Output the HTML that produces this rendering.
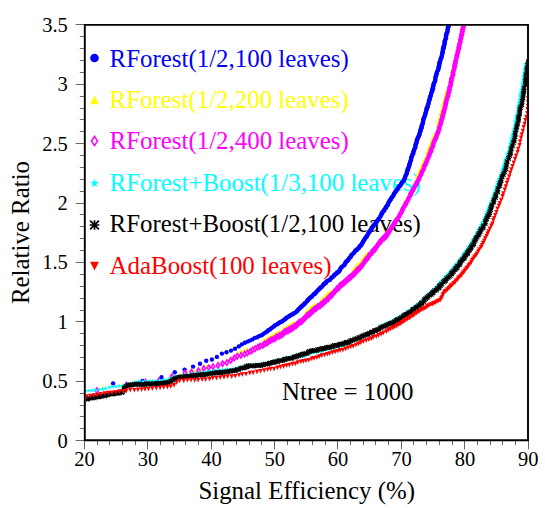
<!DOCTYPE html>
<html><head><meta charset="utf-8"><title>chart</title><style>html,body{margin:0;padding:0;background:#fff;overflow:hidden}body{width:545px;height:508px;position:relative;font-family:"Liberation Serif",serif}</style></head><body>
<svg width="545" height="508" viewBox="0 0 545 508" style="position:absolute;left:0;top:0">
<rect width="545" height="508" fill="#fff"/>
<g font-family="Liberation Serif, serif" font-size="24.9">
<text x="109.6" y="66.5" fill="#0000ff">RForest(1/2,100 leaves)</text>
<text x="109.6" y="107.7" fill="#ffff00">RForest(1/2,200 leaves)</text>
<text x="109.6" y="148.9" fill="#ff00ff">RForest(1/2,400 leaves)</text>
<text x="109.6" y="190.5" fill="#00ffff">RForest+Boost(1/3,100 leaves)</text>
<text x="109.6" y="232.3" fill="#000000">RForest+Boost(1/2,100 leaves)</text>
<text x="109.6" y="273.8" fill="#ff0000">AdaBoost(100 leaves)</text>
<text x="282" y="399.5" fill="#000">Ntree = 1000</text>
<text x="306.7" y="498.6" fill="#000" text-anchor="middle">Signal Efficiency (%)</text>
<text transform="translate(29.3,232.5) rotate(-90)" fill="#000" text-anchor="middle">Relative Ratio</text>
</g>
<g font-family="Liberation Serif, serif" font-size="20.5" fill="#000">
<text x="67.8" y="447.7" text-anchor="end">0</text>
<text x="67.8" y="388.3" text-anchor="end">0.5</text>
<text x="67.8" y="328.8" text-anchor="end">1</text>
<text x="67.8" y="269.4" text-anchor="end">1.5</text>
<text x="67.8" y="210.0" text-anchor="end">2</text>
<text x="67.8" y="150.6" text-anchor="end">2.5</text>
<text x="67.8" y="91.1" text-anchor="end">3</text>
<text x="67.8" y="31.7" text-anchor="end">3.5</text>
<text x="84.6" y="465.6" text-anchor="middle">20</text>
<text x="148.0" y="465.6" text-anchor="middle">30</text>
<text x="211.4" y="465.6" text-anchor="middle">40</text>
<text x="274.7" y="465.6" text-anchor="middle">50</text>
<text x="338.1" y="465.6" text-anchor="middle">60</text>
<text x="401.5" y="465.6" text-anchor="middle">70</text>
<text x="464.9" y="465.6" text-anchor="middle">80</text>
<text x="528.3" y="465.6" text-anchor="middle">90</text>
</g>
<circle cx="94.5" cy="58" r="4.3" fill="#0000ff"/>
<path d="M90.1 104.3L98.9 104.3L94.5 95.8Z" fill="#ffff00"/>
<path d="M91.5 141L94.5 136.4L97.5 141L94.5 145.6Z" fill="none" stroke="#ff00ff" stroke-width="1.5"/>
<g fill="#00ffff"><path d="M94.5 178.8L95.6 181.8L98.9 182.0L96.3 184.0L97.2 187.1L94.5 185.3L91.8 187.1L92.7 184.0L90.1 182.0L93.4 181.8Z"/></g>
<g stroke="#000" stroke-width="1.7" fill="none"><path d="M89.7 225.0H99.3M94.5 220.2V229.8M90.1 220.6L98.9 229.4M90.1 229.4L98.9 220.6"/></g>
<path d="M90.1 261.8L98.9 261.8L94.5 270.4Z" fill="#ff0000"/>
<defs><clipPath id="cp"><rect x="85.7" y="25.8" width="441.4" height="413.6"/></clipPath></defs><g clip-path="url(#cp)">
<g fill="#0000ff"><circle cx="113.1" cy="383.4" r="2.2"/><circle cx="142.5" cy="381.0" r="2.2"/><circle cx="161.5" cy="377.2" r="2.2"/><circle cx="174.8" cy="372.2" r="2.2"/><circle cx="184.6" cy="369.6" r="2.2"/><circle cx="193.1" cy="366.6" r="2.2"/><circle cx="200.0" cy="363.8" r="2.2"/><circle cx="206.2" cy="360.8" r="2.2"/><circle cx="211.9" cy="359.5" r="2.2"/><circle cx="216.9" cy="356.9" r="2.2"/><circle cx="221.9" cy="353.6" r="2.2"/><circle cx="226.5" cy="352.2" r="2.2"/><circle cx="231.0" cy="350.6" r="2.2"/><circle cx="235.0" cy="348.8" r="2.2"/><circle cx="238.8" cy="346.4" r="2.2"/><circle cx="241.8" cy="344.4" r="2.2"/><circle cx="244.8" cy="342.7" r="2.2"/><circle cx="247.5" cy="341.6" r="2.2"/><circle cx="249.9" cy="340.6" r="2.2"/><circle cx="252.4" cy="339.4" r="2.2"/><circle cx="254.8" cy="337.9" r="2.2"/><circle cx="257.3" cy="337.3" r="2.2"/><circle cx="259.3" cy="335.9" r="2.2"/><circle cx="261.7" cy="335.3" r="2.2"/><circle cx="263.6" cy="333.8" r="2.2"/><circle cx="265.6" cy="332.4" r="2.2"/><circle cx="267.2" cy="331.4" r="2.2"/><circle cx="268.3" cy="330.2" r="2.2"/><circle cx="269.9" cy="329.5" r="2.2"/><circle cx="271.3" cy="328.3" r="2.2"/><circle cx="273.0" cy="327.1" r="2.2"/><circle cx="274.3" cy="325.9" r="2.2"/><circle cx="275.2" cy="325.1" r="2.2"/><circle cx="276.9" cy="324.4" r="2.2"/><circle cx="277.9" cy="323.7" r="2.2"/><circle cx="279.2" cy="322.8" r="2.2"/><circle cx="280.5" cy="322.3" r="2.2"/><circle cx="281.3" cy="321.6" r="2.2"/><circle cx="282.5" cy="321.2" r="2.2"/><circle cx="283.6" cy="320.1" r="2.2"/><circle cx="284.8" cy="319.3" r="2.2"/><circle cx="285.4" cy="319.0" r="2.2"/><circle cx="286.1" cy="318.1" r="2.2"/><circle cx="287.0" cy="317.5" r="2.2"/><circle cx="288.5" cy="316.7" r="2.2"/><circle cx="289.5" cy="315.9" r="2.2"/><circle cx="290.4" cy="315.4" r="2.2"/><circle cx="291.3" cy="314.6" r="2.2"/><circle cx="292.6" cy="314.4" r="2.2"/><circle cx="293.4" cy="313.6" r="2.2"/><circle cx="294.1" cy="313.1" r="2.2"/><circle cx="295.5" cy="312.6" r="2.2"/><circle cx="296.6" cy="311.4" r="2.2"/><circle cx="297.2" cy="310.9" r="2.2"/><circle cx="297.9" cy="309.9" r="2.2"/><circle cx="298.9" cy="308.9" r="2.2"/><circle cx="299.6" cy="308.5" r="2.2"/><circle cx="300.5" cy="307.3" r="2.2"/><circle cx="301.5" cy="306.8" r="2.2"/><circle cx="302.1" cy="305.7" r="2.2"/><circle cx="303.3" cy="305.1" r="2.2"/><circle cx="304.3" cy="304.2" r="2.2"/><circle cx="304.8" cy="303.1" r="2.2"/><circle cx="305.7" cy="302.6" r="2.2"/><circle cx="307.0" cy="301.2" r="2.2"/><circle cx="307.3" cy="300.4" r="2.2"/><circle cx="308.2" cy="299.7" r="2.2"/><circle cx="309.3" cy="298.7" r="2.2"/><circle cx="309.7" cy="298.0" r="2.2"/><circle cx="310.8" cy="297.2" r="2.2"/><circle cx="312.0" cy="296.5" r="2.2"/><circle cx="312.6" cy="295.6" r="2.2"/><circle cx="313.6" cy="294.3" r="2.2"/><circle cx="314.6" cy="294.0" r="2.2"/><circle cx="315.4" cy="293.2" r="2.2"/><circle cx="316.0" cy="292.1" r="2.2"/><circle cx="316.7" cy="291.6" r="2.2"/><circle cx="317.6" cy="290.4" r="2.2"/><circle cx="318.6" cy="289.6" r="2.2"/><circle cx="319.5" cy="288.7" r="2.2"/><circle cx="320.1" cy="287.9" r="2.2"/><circle cx="321.0" cy="287.2" r="2.2"/><circle cx="321.8" cy="286.7" r="2.2"/><circle cx="323.0" cy="285.3" r="2.2"/><circle cx="323.6" cy="284.5" r="2.2"/><circle cx="324.4" cy="283.5" r="2.2"/><circle cx="325.6" cy="283.2" r="2.2"/><circle cx="326.2" cy="282.0" r="2.2"/><circle cx="326.9" cy="281.1" r="2.2"/><circle cx="328.1" cy="280.6" r="2.2"/><circle cx="329.5" cy="279.9" r="2.2"/><circle cx="329.9" cy="279.7" r="2.2"/><circle cx="331.1" cy="278.3" r="2.2"/><circle cx="331.9" cy="277.3" r="2.2"/><circle cx="332.7" cy="277.1" r="2.2"/><circle cx="333.8" cy="276.0" r="2.2"/><circle cx="334.2" cy="275.0" r="2.2"/><circle cx="335.0" cy="274.4" r="2.2"/><circle cx="336.2" cy="273.7" r="2.2"/><circle cx="337.0" cy="272.5" r="2.2"/><circle cx="338.2" cy="272.2" r="2.2"/><circle cx="339.0" cy="271.2" r="2.2"/><circle cx="339.8" cy="270.2" r="2.2"/><circle cx="340.1" cy="269.1" r="2.2"/><circle cx="341.0" cy="267.9" r="2.2"/><circle cx="341.5" cy="267.1" r="2.2"/><circle cx="342.4" cy="266.5" r="2.2"/><circle cx="343.7" cy="265.4" r="2.2"/><circle cx="344.4" cy="264.9" r="2.2"/><circle cx="345.2" cy="263.5" r="2.2"/><circle cx="345.5" cy="262.5" r="2.2"/><circle cx="346.2" cy="261.5" r="2.2"/><circle cx="347.3" cy="261.1" r="2.2"/><circle cx="348.2" cy="259.8" r="2.2"/><circle cx="348.8" cy="259.1" r="2.2"/><circle cx="349.1" cy="258.1" r="2.2"/><circle cx="350.4" cy="257.2" r="2.2"/><circle cx="351.0" cy="256.0" r="2.2"/><circle cx="351.3" cy="255.3" r="2.2"/><circle cx="352.2" cy="254.4" r="2.2"/><circle cx="353.5" cy="253.2" r="2.2"/><circle cx="353.9" cy="252.8" r="2.2"/><circle cx="355.0" cy="251.4" r="2.2"/><circle cx="355.4" cy="250.5" r="2.2"/><circle cx="356.8" cy="250.1" r="2.2"/><circle cx="357.1" cy="249.3" r="2.2"/><circle cx="358.6" cy="248.3" r="2.2"/><circle cx="359.0" cy="247.4" r="2.2"/><circle cx="359.6" cy="246.1" r="2.2"/><circle cx="361.0" cy="245.6" r="2.2"/><circle cx="361.3" cy="244.8" r="2.2"/><circle cx="361.9" cy="243.8" r="2.2"/><circle cx="362.9" cy="242.3" r="2.2"/><circle cx="363.1" cy="241.4" r="2.2"/><circle cx="363.8" cy="240.6" r="2.2"/><circle cx="364.4" cy="239.4" r="2.2"/><circle cx="365.0" cy="238.8" r="2.2"/><circle cx="365.7" cy="237.4" r="2.2"/><circle cx="366.6" cy="236.7" r="2.2"/><circle cx="367.1" cy="235.7" r="2.2"/><circle cx="367.8" cy="234.5" r="2.2"/><circle cx="368.5" cy="233.1" r="2.2"/><circle cx="369.1" cy="232.2" r="2.2"/><circle cx="369.5" cy="231.7" r="2.2"/><circle cx="370.2" cy="230.4" r="2.2"/><circle cx="371.2" cy="229.5" r="2.2"/><circle cx="371.6" cy="228.4" r="2.2"/><circle cx="372.4" cy="227.6" r="2.2"/><circle cx="372.8" cy="226.4" r="2.2"/><circle cx="373.6" cy="225.3" r="2.2"/><circle cx="374.7" cy="224.5" r="2.2"/><circle cx="375.3" cy="223.7" r="2.2"/><circle cx="376.3" cy="222.5" r="2.2"/><circle cx="376.7" cy="221.6" r="2.2"/><circle cx="377.3" cy="220.7" r="2.2"/><circle cx="378.0" cy="219.7" r="2.2"/><circle cx="378.7" cy="218.9" r="2.2"/><circle cx="379.5" cy="217.9" r="2.2"/><circle cx="380.3" cy="216.5" r="2.2"/><circle cx="380.7" cy="215.9" r="2.2"/><circle cx="381.5" cy="214.3" r="2.2"/><circle cx="381.7" cy="213.5" r="2.2"/><circle cx="382.3" cy="212.4" r="2.2"/><circle cx="382.9" cy="211.7" r="2.2"/><circle cx="384.1" cy="210.8" r="2.2"/><circle cx="384.3" cy="209.7" r="2.2"/><circle cx="385.3" cy="208.3" r="2.2"/><circle cx="386.1" cy="207.8" r="2.2"/><circle cx="386.2" cy="206.8" r="2.2"/><circle cx="387.0" cy="205.5" r="2.2"/><circle cx="388.0" cy="204.7" r="2.2"/><circle cx="388.1" cy="203.4" r="2.2"/><circle cx="388.9" cy="202.3" r="2.2"/><circle cx="389.3" cy="201.2" r="2.2"/><circle cx="390.3" cy="200.0" r="2.2"/><circle cx="390.8" cy="199.3" r="2.2"/><circle cx="391.1" cy="198.2" r="2.2"/><circle cx="392.1" cy="197.3" r="2.2"/><circle cx="392.4" cy="196.6" r="2.2"/><circle cx="393.5" cy="195.6" r="2.2"/><circle cx="393.7" cy="194.1" r="2.2"/><circle cx="394.3" cy="193.4" r="2.2"/><circle cx="395.1" cy="191.9" r="2.2"/><circle cx="395.9" cy="191.5" r="2.2"/><circle cx="396.8" cy="190.0" r="2.2"/><circle cx="397.0" cy="189.5" r="2.2"/><circle cx="398.0" cy="188.4" r="2.2"/><circle cx="398.4" cy="187.0" r="2.2"/><circle cx="399.6" cy="186.3" r="2.2"/><circle cx="399.8" cy="185.7" r="2.2"/><circle cx="400.9" cy="184.6" r="2.2"/><circle cx="401.3" cy="183.7" r="2.2"/><circle cx="401.9" cy="182.7" r="2.2"/><circle cx="402.9" cy="181.4" r="2.2"/><circle cx="403.7" cy="180.8" r="2.2"/><circle cx="404.1" cy="179.2" r="2.2"/><circle cx="404.9" cy="178.2" r="2.2"/><circle cx="405.1" cy="177.1" r="2.2"/><circle cx="405.4" cy="176.0" r="2.2"/><circle cx="406.0" cy="174.9" r="2.2"/><circle cx="406.7" cy="173.8" r="2.2"/><circle cx="406.9" cy="172.6" r="2.2"/><circle cx="407.1" cy="171.3" r="2.2"/><circle cx="407.4" cy="170.1" r="2.2"/><circle cx="408.1" cy="169.4" r="2.2"/><circle cx="408.0" cy="168.2" r="2.2"/><circle cx="408.9" cy="166.8" r="2.2"/><circle cx="409.2" cy="165.8" r="2.2"/><circle cx="409.3" cy="165.0" r="2.2"/><circle cx="409.6" cy="163.6" r="2.2"/><circle cx="410.1" cy="162.8" r="2.2"/><circle cx="410.3" cy="161.5" r="2.2"/><circle cx="410.9" cy="160.3" r="2.2"/><circle cx="411.1" cy="158.9" r="2.2"/><circle cx="411.2" cy="157.6" r="2.2"/><circle cx="411.6" cy="156.9" r="2.2"/><circle cx="412.1" cy="155.4" r="2.2"/><circle cx="412.4" cy="154.7" r="2.2"/><circle cx="413.3" cy="153.5" r="2.2"/><circle cx="413.3" cy="152.0" r="2.2"/><circle cx="413.7" cy="151.1" r="2.2"/><circle cx="414.0" cy="149.9" r="2.2"/><circle cx="414.4" cy="149.1" r="2.2"/><circle cx="415.3" cy="147.7" r="2.2"/><circle cx="415.2" cy="146.9" r="2.2"/><circle cx="415.6" cy="145.3" r="2.2"/><circle cx="415.7" cy="144.2" r="2.2"/><circle cx="416.4" cy="143.1" r="2.2"/><circle cx="416.6" cy="142.0" r="2.2"/><circle cx="416.8" cy="140.6" r="2.2"/><circle cx="417.3" cy="139.6" r="2.2"/><circle cx="417.6" cy="138.2" r="2.2"/><circle cx="418.1" cy="137.2" r="2.2"/><circle cx="418.7" cy="136.3" r="2.2"/><circle cx="419.2" cy="135.2" r="2.2"/><circle cx="419.5" cy="134.2" r="2.2"/><circle cx="419.7" cy="132.7" r="2.2"/><circle cx="420.4" cy="131.4" r="2.2"/><circle cx="420.6" cy="130.6" r="2.2"/><circle cx="420.5" cy="129.6" r="2.2"/><circle cx="421.4" cy="128.3" r="2.2"/><circle cx="421.6" cy="127.3" r="2.2"/><circle cx="421.5" cy="125.9" r="2.2"/><circle cx="422.1" cy="125.0" r="2.2"/><circle cx="422.7" cy="123.8" r="2.2"/><circle cx="422.8" cy="122.7" r="2.2"/><circle cx="423.2" cy="121.4" r="2.2"/><circle cx="423.3" cy="119.8" r="2.2"/><circle cx="423.5" cy="118.9" r="2.2"/><circle cx="423.8" cy="118.1" r="2.2"/><circle cx="424.5" cy="116.8" r="2.2"/><circle cx="424.9" cy="115.7" r="2.2"/><circle cx="425.1" cy="114.0" r="2.2"/><circle cx="425.7" cy="113.4" r="2.2"/><circle cx="425.8" cy="112.1" r="2.2"/><circle cx="426.3" cy="110.6" r="2.2"/><circle cx="426.7" cy="109.6" r="2.2"/><circle cx="426.5" cy="108.5" r="2.2"/><circle cx="427.3" cy="107.3" r="2.2"/><circle cx="427.7" cy="106.7" r="2.2"/><circle cx="427.9" cy="105.1" r="2.2"/><circle cx="428.2" cy="104.2" r="2.2"/><circle cx="428.7" cy="103.0" r="2.2"/><circle cx="429.0" cy="101.4" r="2.2"/><circle cx="429.0" cy="100.4" r="2.2"/><circle cx="429.7" cy="99.3" r="2.2"/><circle cx="430.0" cy="97.9" r="2.2"/><circle cx="429.9" cy="97.0" r="2.2"/><circle cx="430.7" cy="96.1" r="2.2"/><circle cx="431.0" cy="94.7" r="2.2"/><circle cx="431.2" cy="93.6" r="2.2"/><circle cx="431.5" cy="92.2" r="2.2"/><circle cx="432.1" cy="91.1" r="2.2"/><circle cx="432.5" cy="90.5" r="2.2"/><circle cx="432.2" cy="89.0" r="2.2"/><circle cx="433.1" cy="88.2" r="2.2"/><circle cx="433.1" cy="86.6" r="2.2"/><circle cx="433.3" cy="85.9" r="2.2"/><circle cx="433.6" cy="84.5" r="2.2"/><circle cx="433.9" cy="83.3" r="2.2"/><circle cx="434.8" cy="81.8" r="2.2"/><circle cx="435.0" cy="81.0" r="2.2"/><circle cx="435.4" cy="79.9" r="2.2"/><circle cx="435.2" cy="78.9" r="2.2"/><circle cx="435.7" cy="77.1" r="2.2"/><circle cx="435.7" cy="76.3" r="2.2"/><circle cx="436.3" cy="75.0" r="2.2"/><circle cx="436.4" cy="73.9" r="2.2"/><circle cx="436.9" cy="73.1" r="2.2"/><circle cx="437.0" cy="71.9" r="2.2"/><circle cx="437.9" cy="70.3" r="2.2"/><circle cx="438.3" cy="69.5" r="2.2"/><circle cx="438.6" cy="68.1" r="2.2"/><circle cx="438.5" cy="67.0" r="2.2"/><circle cx="439.3" cy="66.0" r="2.2"/><circle cx="439.2" cy="64.7" r="2.2"/><circle cx="439.4" cy="63.3" r="2.2"/><circle cx="439.6" cy="62.7" r="2.2"/><circle cx="440.1" cy="61.6" r="2.2"/><circle cx="440.4" cy="60.0" r="2.2"/><circle cx="440.8" cy="58.8" r="2.2"/><circle cx="441.0" cy="58.1" r="2.2"/><circle cx="441.7" cy="56.9" r="2.2"/><circle cx="441.8" cy="55.8" r="2.2"/><circle cx="442.2" cy="54.3" r="2.2"/><circle cx="442.4" cy="52.8" r="2.2"/><circle cx="442.6" cy="51.9" r="2.2"/><circle cx="442.9" cy="50.9" r="2.2"/><circle cx="442.9" cy="49.3" r="2.2"/><circle cx="443.6" cy="48.2" r="2.2"/><circle cx="443.6" cy="47.2" r="2.2"/><circle cx="443.7" cy="46.3" r="2.2"/><circle cx="444.5" cy="44.8" r="2.2"/><circle cx="444.5" cy="43.6" r="2.2"/><circle cx="444.7" cy="42.5" r="2.2"/><circle cx="444.7" cy="41.2" r="2.2"/><circle cx="445.0" cy="40.6" r="2.2"/><circle cx="445.5" cy="38.9" r="2.2"/><circle cx="446.0" cy="38.3" r="2.2"/><circle cx="446.0" cy="36.5" r="2.2"/><circle cx="446.1" cy="35.3" r="2.2"/><circle cx="446.5" cy="34.1" r="2.2"/><circle cx="446.7" cy="33.1" r="2.2"/><circle cx="447.2" cy="32.4" r="2.2"/><circle cx="447.6" cy="30.9" r="2.2"/><circle cx="447.6" cy="29.8" r="2.2"/><circle cx="447.9" cy="28.5" r="2.2"/><circle cx="447.9" cy="27.3" r="2.2"/><circle cx="448.8" cy="26.0" r="2.2"/><circle cx="448.8" cy="25.2" r="2.2"/></g>
<g fill="#ffff00"><path d="M100.5 389.1L104.5 389.1L102.5 385.5ZM169.2 378.6L173.2 378.6L171.2 375.0ZM178.0 376.0L182.0 376.0L180.0 372.4ZM185.5 373.9L189.5 373.9L187.5 370.2ZM192.4 372.2L196.4 372.2L194.4 368.6ZM199.2 371.1L203.2 371.1L201.2 367.5ZM205.0 367.6L209.0 367.6L207.0 364.0ZM225.9 361.6L229.9 361.6L227.9 358.0ZM229.4 359.4L233.4 359.4L231.4 355.8ZM232.8 357.7L236.8 357.7L234.8 354.1ZM235.7 354.2L239.7 354.2L237.7 350.6ZM239.5 352.9L243.5 352.9L241.5 349.3ZM242.4 351.9L246.4 351.9L244.4 348.3ZM245.1 350.4L249.1 350.4L247.1 346.8ZM248.8 351.3L252.8 351.3L250.8 347.7ZM251.4 349.6L255.4 349.6L253.4 346.0ZM254.1 348.2L258.1 348.2L256.1 344.6ZM256.5 347.0L260.5 347.0L258.5 343.4ZM258.7 346.1L262.7 346.1L260.7 342.5ZM260.7 345.0L264.7 345.0L262.7 341.4ZM262.1 342.2L266.1 342.2L264.1 338.6ZM263.9 340.8L267.9 340.8L265.9 337.2ZM265.6 339.8L269.6 339.8L267.6 336.2ZM267.5 338.7L271.5 338.7L269.5 335.1ZM269.2 338.0L273.2 338.0L271.2 334.4ZM270.6 336.9L274.6 336.9L272.6 333.3ZM272.6 335.7L276.6 335.7L274.6 332.1ZM274.3 335.1L278.3 335.1L276.3 331.5ZM275.7 334.3L279.7 334.3L277.7 330.7ZM276.8 334.0L280.8 334.0L278.8 330.4ZM277.9 333.4L281.9 333.4L279.9 329.8ZM279.8 334.0L283.8 334.0L281.8 330.4ZM281.3 333.1L285.3 333.1L283.3 329.5ZM281.5 330.4L285.5 330.4L283.5 326.8ZM283.1 329.7L287.1 329.7L285.1 326.1ZM284.0 329.3L288.0 329.3L286.0 325.7ZM285.1 328.5L289.1 328.5L287.1 324.9ZM286.4 327.9L290.4 327.9L288.4 324.3ZM287.3 327.4L291.3 327.4L289.3 323.8ZM288.6 326.1L292.6 326.1L290.6 322.5ZM289.6 325.6L293.6 325.6L291.6 322.0ZM290.5 324.9L294.5 324.9L292.5 321.3ZM291.8 324.2L295.8 324.2L293.8 320.6ZM294.1 324.8L298.1 324.8L296.1 321.2ZM295.1 324.2L299.1 324.2L297.1 320.6ZM296.7 323.2L300.7 323.2L298.7 319.6ZM297.3 322.5L301.3 322.5L299.3 318.9ZM298.5 321.3L302.5 321.3L300.5 317.7ZM299.4 320.7L303.4 320.7L301.4 317.1ZM300.8 319.7L304.8 319.7L302.8 316.1ZM301.7 318.8L305.7 318.8L303.7 315.2ZM302.6 318.1L306.6 318.1L304.6 314.5ZM303.7 317.0L307.7 317.0L305.7 313.4ZM305.0 316.1L309.0 316.1L307.0 312.5ZM304.4 313.4L308.4 313.4L306.4 309.8ZM305.5 312.3L309.5 312.3L307.5 308.7ZM306.7 311.5L310.7 311.5L308.7 307.9ZM307.8 310.5L311.8 310.5L309.8 306.9ZM308.6 309.5L312.6 309.5L310.6 305.9ZM309.8 308.4L313.8 308.4L311.8 304.8ZM310.8 307.8L314.8 307.8L312.8 304.2ZM312.1 306.7L316.1 306.7L314.1 303.1ZM313.2 306.0L317.2 306.0L315.2 302.4ZM315.6 307.0L319.6 307.0L317.6 303.4ZM316.9 306.0L320.9 306.0L318.9 302.4ZM318.2 305.5L322.2 305.5L320.2 301.9ZM318.7 304.6L322.7 304.6L320.7 301.0ZM318.9 302.2L322.9 302.2L320.9 298.6ZM319.5 301.4L323.5 301.4L321.5 297.8ZM320.8 300.0L324.8 300.0L322.8 296.4ZM321.4 299.6L325.4 299.6L323.4 296.0ZM322.8 298.2L326.8 298.2L324.8 294.6ZM323.5 297.2L327.5 297.2L325.5 293.6ZM324.6 296.6L328.6 296.6L326.6 293.0ZM325.6 295.3L329.6 295.3L327.6 291.7ZM326.9 294.7L330.9 294.7L328.9 291.1ZM327.5 293.8L331.5 293.8L329.5 290.2ZM328.7 292.8L332.7 292.8L330.7 289.2ZM331.1 293.2L335.1 293.2L333.1 289.6ZM332.1 292.2L336.1 292.2L334.1 288.6ZM332.7 291.1L336.7 291.1L334.7 287.5ZM333.8 290.0L337.8 290.0L335.8 286.4ZM334.7 289.1L338.7 289.1L336.7 285.5ZM335.8 287.7L339.8 287.7L337.8 284.1ZM336.6 286.5L340.6 286.5L338.6 282.9ZM337.8 285.5L341.8 285.5L339.8 281.9ZM338.9 284.7L342.9 284.7L340.9 281.1ZM340.0 284.0L344.0 284.0L342.0 280.4ZM341.1 283.3L345.1 283.3L343.1 279.7ZM341.8 282.4L345.8 282.4L343.8 278.8ZM343.2 281.3L347.2 281.3L345.2 277.7ZM344.4 280.5L348.4 280.5L346.4 276.9ZM345.2 279.4L349.2 279.4L347.2 275.8ZM346.7 278.3L350.7 278.3L348.7 274.7ZM347.5 277.7L351.5 277.7L349.5 274.1ZM348.2 276.8L352.2 276.8L350.2 273.2ZM349.6 276.0L353.6 276.0L351.6 272.4ZM350.3 275.1L354.3 275.1L352.3 271.5ZM351.4 273.8L355.4 273.8L353.4 270.2ZM351.2 271.2L355.2 271.2L353.2 267.6ZM352.1 270.5L356.1 270.5L354.1 266.9ZM352.8 269.7L356.8 269.7L354.8 266.1ZM353.8 268.4L357.8 268.4L355.8 264.8ZM354.9 267.6L358.9 267.6L356.9 264.0ZM355.7 266.3L359.7 266.3L357.7 262.7ZM356.8 265.5L360.8 265.5L358.8 261.9ZM357.9 264.6L361.9 264.6L359.9 261.0ZM358.7 263.8L362.7 263.8L360.7 260.2ZM359.3 262.6L363.3 262.6L361.3 259.0ZM360.1 261.8L364.1 261.8L362.1 258.2ZM361.0 260.5L365.0 260.5L363.0 256.9ZM361.7 259.1L365.7 259.1L363.7 255.5ZM362.5 258.1L366.5 258.1L364.5 254.5ZM363.6 257.1L367.6 257.1L365.6 253.5ZM364.1 256.0L368.1 256.0L366.1 252.4ZM365.5 254.8L369.5 254.8L367.5 251.2ZM367.3 254.7L371.3 254.7L369.3 251.1ZM368.1 253.5L372.1 253.5L370.1 249.9ZM369.5 252.7L373.5 252.7L371.5 249.1ZM370.2 251.6L374.2 251.6L372.2 248.0ZM371.4 250.4L375.4 250.4L373.4 246.8ZM372.1 249.4L376.1 249.4L374.1 245.8ZM373.1 248.4L377.1 248.4L375.1 244.8ZM373.9 247.2L377.9 247.2L375.9 243.6ZM374.7 246.2L378.7 246.2L376.7 242.6ZM375.5 244.8L379.5 244.8L377.5 241.2ZM375.9 243.5L379.9 243.5L377.9 239.9ZM377.1 242.9L381.1 242.9L379.1 239.3ZM378.0 241.4L382.0 241.4L380.0 237.8ZM379.1 240.6L383.1 240.6L381.1 237.0ZM380.0 239.3L384.0 239.3L382.0 235.7ZM380.9 238.4L384.9 238.4L382.9 234.8ZM381.8 237.5L385.8 237.5L383.8 233.9ZM382.9 236.8L386.9 236.8L384.9 233.2ZM383.4 235.6L387.4 235.6L385.4 232.0ZM384.2 234.2L388.2 234.2L386.2 230.6ZM385.5 233.4L389.5 233.4L387.5 229.8ZM386.3 232.1L390.3 232.1L388.3 228.5ZM386.5 230.9L390.5 230.9L388.5 227.3ZM387.6 230.1L391.6 230.1L389.6 226.5ZM388.6 228.6L392.6 228.6L390.6 225.0ZM389.1 227.3L393.1 227.3L391.1 223.7ZM390.0 226.2L394.0 226.2L392.0 222.6ZM390.5 224.9L394.5 224.9L392.5 221.3ZM391.1 224.1L395.1 224.1L393.1 220.5ZM392.0 223.1L396.0 223.1L394.0 219.5ZM392.8 221.9L396.8 221.9L394.8 218.3ZM393.6 220.2L397.6 220.2L395.6 216.6ZM394.8 219.2L398.8 219.2L396.8 215.6ZM395.6 218.1L399.6 218.1L397.6 214.5ZM395.9 217.3L399.9 217.3L397.9 213.7ZM397.0 216.2L401.0 216.2L399.0 212.6ZM397.6 214.5L401.6 214.5L399.6 210.9ZM398.2 213.6L402.2 213.6L400.2 210.0ZM398.7 212.5L402.7 212.5L400.7 208.9ZM399.3 211.3L403.3 211.3L401.3 207.7ZM400.2 209.5L404.2 209.5L402.2 205.9ZM400.4 208.6L404.4 208.6L402.4 205.0ZM401.5 207.0L405.5 207.0L403.5 203.4ZM401.9 206.2L405.9 206.2L403.9 202.6ZM402.4 205.0L406.4 205.0L404.4 201.4ZM403.2 203.3L407.2 203.3L405.2 199.7ZM403.8 202.3L407.8 202.3L405.8 198.7ZM404.5 201.2L408.5 201.2L406.5 197.6ZM405.0 200.0L409.0 200.0L407.0 196.4ZM405.7 198.6L409.7 198.6L407.7 195.0ZM406.5 197.3L410.5 197.3L408.5 193.7ZM407.1 196.2L411.1 196.2L409.1 192.6ZM408.1 195.0L412.1 195.0L410.1 191.4ZM408.5 193.5L412.5 193.5L410.5 189.9ZM408.9 192.6L412.9 192.6L410.9 189.0ZM409.9 191.3L413.9 191.3L411.9 187.7ZM410.4 190.0L414.4 190.0L412.4 186.4ZM411.4 188.9L415.4 188.9L413.4 185.3ZM411.9 187.3L415.9 187.3L413.9 183.7ZM412.5 186.5L416.5 186.5L414.5 182.9ZM413.1 185.1L417.1 185.1L415.1 181.5ZM413.9 184.0L417.9 184.0L415.9 180.4ZM414.6 182.4L418.6 182.4L416.6 178.8ZM414.8 181.2L418.8 181.2L416.8 177.6ZM415.6 180.1L419.6 180.1L417.6 176.5ZM415.0 178.4L419.0 178.4L417.0 174.8ZM415.1 177.1L419.1 177.1L417.1 173.5ZM416.2 175.8L420.2 175.8L418.2 172.2ZM416.6 174.2L420.6 174.2L418.6 170.6ZM417.4 173.2L421.4 173.2L419.4 169.6ZM417.9 172.0L421.9 172.0L419.9 168.4ZM418.2 170.3L422.2 170.3L420.2 166.7ZM418.9 169.4L422.9 169.4L420.9 165.8ZM419.3 168.1L423.3 168.1L421.3 164.5ZM420.3 166.5L424.3 166.5L422.3 162.9ZM420.7 165.5L424.7 165.5L422.7 161.9ZM421.2 164.0L425.2 164.0L423.2 160.4ZM421.7 163.1L425.7 163.1L423.7 159.5ZM422.6 161.7L426.6 161.7L424.6 158.1ZM422.7 160.7L426.7 160.7L424.7 157.1ZM423.7 159.1L427.7 159.1L425.7 155.5ZM425.5 158.7L429.5 158.7L427.5 155.1ZM426.2 157.2L430.2 157.2L428.2 153.6ZM425.0 155.4L429.0 155.4L427.0 151.8ZM425.3 153.8L429.3 153.8L427.3 150.2ZM425.8 152.8L429.8 152.8L427.8 149.2ZM426.4 151.4L430.4 151.4L428.4 147.8ZM426.9 150.1L430.9 150.1L428.9 146.5ZM427.2 148.5L431.2 148.5L429.2 144.9ZM428.3 147.4L432.3 147.4L430.3 143.8ZM428.2 146.2L432.2 146.2L430.2 142.6ZM429.1 144.6L433.1 144.6L431.1 141.0ZM429.5 143.4L433.5 143.4L431.5 139.8ZM429.9 141.9L433.9 141.9L431.9 138.3ZM430.1 141.2L434.1 141.2L432.1 137.6ZM431.1 139.6L435.1 139.6L433.1 136.0ZM431.5 138.1L435.5 138.1L433.5 134.5ZM432.1 136.9L436.1 136.9L434.1 133.3ZM432.7 135.8L436.7 135.8L434.7 132.2ZM434.6 135.2L438.6 135.2L436.6 131.6ZM434.8 133.3L438.8 133.3L436.8 129.7ZM435.2 132.1L439.2 132.1L437.2 128.5ZM435.6 130.8L439.6 130.8L437.6 127.2ZM436.3 130.0L440.3 130.0L438.3 126.4ZM436.6 128.7L440.6 128.7L438.6 125.1ZM437.2 126.8L441.2 126.8L439.2 123.2ZM436.1 125.3L440.1 125.3L438.1 121.7ZM436.2 124.3L440.2 124.3L438.2 120.7ZM436.6 122.7L440.6 122.7L438.6 119.1ZM437.2 121.6L441.2 121.6L439.2 118.0ZM437.6 119.9L441.6 119.9L439.6 116.3ZM437.8 118.4L441.8 118.4L439.8 114.8ZM438.5 117.5L442.5 117.5L440.5 113.9ZM438.4 115.6L442.4 115.6L440.4 112.0ZM438.8 114.4L442.8 114.4L440.8 110.8ZM439.5 113.4L443.5 113.4L441.5 109.8ZM439.9 111.5L443.9 111.5L441.9 107.9ZM440.2 110.6L444.2 110.6L442.2 107.0ZM440.5 109.4L444.5 109.4L442.5 105.8ZM440.5 107.5L444.5 107.5L442.5 103.9ZM441.3 106.7L445.3 106.7L443.3 103.1ZM441.6 104.9L445.6 104.9L443.6 101.3ZM441.9 103.9L445.9 103.9L443.9 100.3ZM442.0 102.2L446.0 102.2L444.0 98.6ZM442.4 100.8L446.4 100.8L444.4 97.2ZM442.9 99.5L446.9 99.5L444.9 95.9ZM443.1 98.1L447.1 98.1L445.1 94.5ZM443.8 96.7L447.8 96.7L445.8 93.1ZM444.1 95.5L448.1 95.5L446.1 91.9ZM444.0 94.6L448.0 94.6L446.0 91.0ZM444.4 93.2L448.4 93.2L446.4 89.6ZM446.4 92.1L450.4 92.1L448.4 88.5ZM446.3 90.5L450.3 90.5L448.3 86.9ZM446.6 89.4L450.6 89.4L448.6 85.8ZM447.3 87.9L451.3 87.9L449.3 84.3ZM447.4 86.3L451.4 86.3L449.4 82.7ZM448.0 85.0L452.0 85.0L450.0 81.4ZM448.1 83.5L452.1 83.5L450.1 79.9ZM448.2 82.1L452.2 82.1L450.2 78.5ZM448.8 81.0L452.8 81.0L450.8 77.4ZM448.8 79.8L452.8 79.8L450.8 76.2ZM449.2 78.2L453.2 78.2L451.2 74.6ZM449.4 76.7L453.4 76.7L451.4 73.1ZM450.1 75.4L454.1 75.4L452.1 71.8ZM450.0 74.1L454.0 74.1L452.0 70.5ZM450.4 73.0L454.4 73.0L452.4 69.4ZM450.6 71.7L454.6 71.7L452.6 68.1ZM450.9 70.3L454.9 70.3L452.9 66.7ZM451.6 68.5L455.6 68.5L453.6 64.9ZM451.8 67.2L455.8 67.2L453.8 63.6ZM451.9 65.8L455.9 65.8L453.9 62.2ZM452.3 64.9L456.3 64.9L454.3 61.3ZM453.0 63.5L457.0 63.5L455.0 59.9ZM452.8 61.7L456.8 61.7L454.8 58.1ZM453.5 60.2L457.5 60.2L455.5 56.6ZM453.7 59.0L457.7 59.0L455.7 55.4ZM454.2 57.4L458.2 57.4L456.2 53.8ZM454.4 56.3L458.4 56.3L456.4 52.7ZM454.3 54.7L458.3 54.7L456.3 51.1ZM455.0 53.7L459.0 53.7L457.0 50.1ZM455.0 52.2L459.0 52.2L457.0 48.6ZM455.7 50.7L459.7 50.7L457.7 47.1ZM455.8 49.3L459.8 49.3L457.8 45.7ZM455.9 48.3L459.9 48.3L457.9 44.7ZM456.5 46.6L460.5 46.6L458.5 43.0ZM456.4 45.2L460.4 45.2L458.4 41.6ZM457.0 44.1L461.0 44.1L459.0 40.5ZM457.1 42.5L461.1 42.5L459.1 38.9ZM457.7 41.5L461.7 41.5L459.7 37.9ZM458.1 40.0L462.1 40.0L460.1 36.4ZM458.0 38.4L462.0 38.4L460.0 34.8ZM458.6 37.2L462.6 37.2L460.6 33.6ZM458.9 35.6L462.9 35.6L460.9 32.0ZM459.3 34.4L463.3 34.4L461.3 30.8ZM459.6 33.4L463.6 33.4L461.6 29.8ZM459.7 31.5L463.7 31.5L461.7 27.9ZM460.3 30.4L464.3 30.4L462.3 26.8ZM460.6 28.9L464.6 28.9L462.6 25.3ZM460.5 27.9L464.5 27.9L462.5 24.3ZM460.9 26.1L464.9 26.1L462.9 22.5Z"/></g>
<g fill="#ff00ff" fill-opacity="0.3" stroke="#ff00ff" stroke-width="1.5"><path d="M95.2 390.6L96.9 387.9L98.6 390.6L96.9 393.3ZM124.8 385.0L126.5 382.3L128.2 385.0L126.5 387.7ZM143.9 382.0L145.6 379.3L147.3 382.0L145.6 384.7ZM157.1 380.8L158.8 378.1L160.4 380.8L158.8 383.5ZM170.3 376.5L172.0 373.8L173.7 376.5L172.0 379.2ZM183.3 373.0L185.0 370.3L186.7 373.0L185.0 375.7ZM189.8 372.2L191.5 369.5L193.2 372.2L191.5 374.9ZM196.8 370.7L198.5 368.0L200.2 370.7L198.5 373.4ZM202.1 368.3L203.8 365.6L205.4 368.3L203.8 371.0ZM207.1 367.8L208.8 365.1L210.4 367.8L208.8 370.5ZM211.3 366.7L213.0 364.0L214.7 366.7L213.0 369.4ZM216.3 365.4L218.0 362.7L219.7 365.4L218.0 368.1ZM220.8 363.7L222.5 361.0L224.2 363.7L222.5 366.4ZM225.1 362.6L226.8 359.9L228.5 362.6L226.8 365.3ZM229.0 360.4L230.7 357.7L232.4 360.4L230.7 363.1ZM232.6 358.0L234.3 355.3L236.0 358.0L234.3 360.7ZM235.5 356.3L237.2 353.6L238.9 356.3L237.2 359.0ZM239.2 355.4L240.9 352.7L242.6 355.4L240.9 358.1ZM242.8 354.2L244.5 351.5L246.2 354.2L244.5 356.9ZM245.7 353.0L247.4 350.3L249.1 353.0L247.4 355.7ZM248.5 351.5L250.2 348.8L251.9 351.5L250.2 354.2ZM250.8 350.1L252.5 347.4L254.2 350.1L252.5 352.8ZM253.4 348.7L255.1 346.0L256.8 348.7L255.1 351.4ZM256.2 347.2L257.9 344.5L259.6 347.2L257.9 349.9ZM258.4 346.2L260.1 343.5L261.8 346.2L260.1 348.9ZM261.0 345.5L262.7 342.8L264.4 345.5L262.7 348.2ZM262.8 343.9L264.5 341.2L266.2 343.9L264.5 346.6ZM265.1 343.1L266.8 340.4L268.5 343.1L266.8 345.8ZM266.9 341.7L268.6 339.0L270.3 341.7L268.6 344.4ZM268.9 340.4L270.6 337.7L272.3 340.4L270.6 343.1ZM270.4 339.7L272.1 337.0L273.8 339.7L272.1 342.4ZM272.5 338.8L274.2 336.1L275.9 338.8L274.2 341.5ZM274.0 337.8L275.7 335.1L277.4 337.8L275.7 340.5ZM275.1 336.7L276.8 334.0L278.5 336.7L276.8 339.4ZM277.2 336.4L278.9 333.7L280.6 336.4L278.9 339.1ZM278.3 335.4L280.0 332.7L281.7 335.4L280.0 338.1ZM279.7 335.1L281.4 332.4L283.1 335.1L281.4 337.8ZM280.8 333.8L282.5 331.1L284.2 333.8L282.5 336.5ZM282.0 333.3L283.7 330.6L285.4 333.3L283.7 336.0ZM282.8 331.9L284.5 329.2L286.2 331.9L284.5 334.6ZM284.1 331.6L285.8 328.9L287.5 331.6L285.8 334.3ZM285.4 330.8L287.1 328.1L288.8 330.8L287.1 333.5ZM286.5 330.6L288.2 327.9L289.9 330.6L288.2 333.3ZM287.4 329.7L289.1 327.0L290.8 329.7L289.1 332.4ZM288.8 329.2L290.5 326.5L292.2 329.2L290.5 331.9ZM289.7 328.5L291.4 325.8L293.1 328.5L291.4 331.2ZM290.3 328.3L292.0 325.6L293.7 328.3L292.0 331.0ZM291.4 327.7L293.1 325.0L294.8 327.7L293.1 330.4ZM292.5 326.5L294.2 323.8L295.9 326.5L294.2 329.2ZM293.3 326.0L295.0 323.3L296.7 326.0L295.0 328.7ZM294.5 325.6L296.2 322.9L297.9 325.6L296.2 328.3ZM295.1 324.5L296.8 321.8L298.5 324.5L296.8 327.2ZM296.1 324.2L297.8 321.5L299.5 324.2L297.8 326.9ZM297.0 322.8L298.7 320.1L300.4 322.8L298.7 325.5ZM297.9 322.2L299.6 319.5L301.3 322.2L299.6 324.9ZM299.4 321.8L301.1 319.1L302.8 321.8L301.1 324.5ZM300.2 321.1L301.9 318.4L303.6 321.1L301.9 323.8ZM301.2 319.9L302.9 317.2L304.6 319.9L302.9 322.6ZM301.6 319.6L303.3 316.9L305.0 319.6L303.3 322.3ZM302.9 318.1L304.6 315.4L306.3 318.1L304.6 320.8ZM303.8 317.6L305.5 314.9L307.2 317.6L305.5 320.3ZM304.4 316.7L306.1 314.0L307.8 316.7L306.1 319.4ZM305.2 315.7L306.9 313.0L308.6 315.7L306.9 318.4ZM306.2 315.1L307.9 312.4L309.6 315.1L307.9 317.8ZM307.5 314.2L309.2 311.5L310.9 314.2L309.2 316.9ZM308.4 313.4L310.1 310.7L311.8 313.4L310.1 316.1ZM308.9 313.0L310.6 310.3L312.3 313.0L310.6 315.7ZM310.1 311.9L311.8 309.2L313.5 311.9L311.8 314.6ZM310.4 311.2L312.1 308.5L313.8 311.2L312.1 313.9ZM311.5 310.7L313.2 308.0L314.9 310.7L313.2 313.4ZM312.4 309.6L314.1 306.9L315.8 309.6L314.1 312.3ZM313.8 308.6L315.5 305.9L317.2 308.6L315.5 311.3ZM314.5 308.5L316.2 305.8L317.9 308.5L316.2 311.2ZM315.7 307.2L317.4 304.5L319.1 307.2L317.4 309.9ZM316.1 306.5L317.8 303.8L319.5 306.5L317.8 309.2ZM317.7 306.0L319.4 303.3L321.1 306.0L319.4 308.7ZM318.6 305.7L320.3 303.0L322.0 305.7L320.3 308.4ZM319.2 304.5L320.9 301.8L322.6 304.5L320.9 307.2ZM320.6 304.0L322.3 301.3L324.0 304.0L322.3 306.7ZM321.1 303.3L322.8 300.6L324.5 303.3L322.8 306.0ZM322.0 302.2L323.7 299.5L325.4 302.2L323.7 304.9ZM322.7 301.8L324.4 299.1L326.1 301.8L324.4 304.5ZM324.2 300.8L325.9 298.1L327.6 300.8L325.9 303.5ZM325.1 299.6L326.8 296.9L328.5 299.6L326.8 302.3ZM325.4 299.1L327.1 296.4L328.8 299.1L327.1 301.8ZM326.8 298.6L328.5 295.9L330.2 298.6L328.5 301.3ZM327.3 297.3L329.0 294.6L330.7 297.3L329.0 300.0ZM328.2 296.6L329.9 293.9L331.6 296.6L329.9 299.3ZM329.4 295.5L331.1 292.8L332.8 295.5L331.1 298.2ZM330.1 295.1L331.8 292.4L333.5 295.1L331.8 297.8ZM331.0 294.2L332.7 291.5L334.4 294.2L332.7 296.9ZM331.7 293.1L333.4 290.4L335.1 293.1L333.4 295.8ZM332.3 292.2L334.0 289.5L335.7 292.2L334.0 294.9ZM333.4 291.1L335.1 288.4L336.8 291.1L335.1 293.8ZM333.8 290.7L335.5 288.0L337.2 290.7L335.5 293.4ZM334.7 289.3L336.4 286.6L338.1 289.3L336.4 292.0ZM335.3 288.8L337.0 286.1L338.7 288.8L337.0 291.5ZM336.3 288.2L338.0 285.5L339.7 288.2L338.0 290.9ZM337.6 287.4L339.3 284.7L341.0 287.4L339.3 290.1ZM338.0 285.9L339.7 283.2L341.4 285.9L339.7 288.6ZM338.8 285.4L340.5 282.7L342.2 285.4L340.5 288.1ZM340.1 284.6L341.8 281.9L343.5 284.6L341.8 287.3ZM340.7 283.8L342.4 281.1L344.1 283.8L342.4 286.5ZM341.9 283.2L343.6 280.5L345.3 283.2L343.6 285.9ZM342.9 282.5L344.6 279.8L346.3 282.5L344.6 285.2ZM343.7 281.2L345.4 278.5L347.1 281.2L345.4 283.9ZM344.8 280.6L346.5 277.9L348.2 280.6L346.5 283.3ZM345.5 279.8L347.2 277.1L348.9 279.8L347.2 282.5ZM346.5 278.9L348.2 276.2L349.9 278.9L348.2 281.6ZM347.1 278.2L348.8 275.5L350.5 278.2L348.8 280.9ZM347.9 277.9L349.6 275.2L351.3 277.9L349.6 280.6ZM349.1 276.7L350.8 274.0L352.5 276.7L350.8 279.4ZM349.9 276.4L351.6 273.7L353.3 276.4L351.6 279.1ZM350.8 275.0L352.5 272.3L354.2 275.0L352.5 277.7ZM351.9 274.4L353.6 271.7L355.3 274.4L353.6 277.1ZM352.9 273.2L354.6 270.5L356.3 273.2L354.6 275.9ZM353.3 272.8L355.0 270.1L356.7 272.8L355.0 275.5ZM354.4 272.0L356.1 269.3L357.8 272.0L356.1 274.7ZM354.7 270.7L356.4 268.0L358.1 270.7L356.4 273.4ZM355.6 269.8L357.3 267.1L359.0 269.8L357.3 272.5ZM357.0 269.2L358.7 266.5L360.4 269.2L358.7 271.9ZM357.8 268.2L359.5 265.5L361.2 268.2L359.5 270.9ZM358.7 267.4L360.4 264.7L362.1 267.4L360.4 270.1ZM359.1 266.8L360.8 264.1L362.5 266.8L360.8 269.5ZM360.4 265.5L362.1 262.8L363.8 265.5L362.1 268.2ZM360.9 264.9L362.6 262.2L364.3 264.9L362.6 267.6ZM361.4 263.8L363.1 261.1L364.8 263.8L363.1 266.5ZM362.0 262.7L363.7 260.0L365.4 262.7L363.7 265.4ZM362.8 262.0L364.5 259.3L366.2 262.0L364.5 264.7ZM363.7 260.7L365.4 258.0L367.1 260.7L365.4 263.4ZM364.0 259.9L365.7 257.2L367.4 259.9L365.7 262.6ZM365.2 258.8L366.9 256.1L368.6 258.8L366.9 261.5ZM365.7 257.9L367.4 255.2L369.1 257.9L367.4 260.6ZM366.8 257.2L368.5 254.5L370.2 257.2L368.5 259.9ZM367.0 255.9L368.7 253.2L370.4 255.9L368.7 258.6ZM368.0 255.3L369.7 252.6L371.4 255.3L369.7 258.0ZM368.9 254.0L370.6 251.3L372.3 254.0L370.6 256.7ZM369.3 253.5L371.0 250.8L372.7 253.5L371.0 256.2ZM370.2 252.2L371.9 249.5L373.6 252.2L371.9 254.9ZM370.9 251.8L372.6 249.1L374.3 251.8L372.6 254.5ZM371.6 250.5L373.3 247.8L375.0 250.5L373.3 253.2ZM372.4 249.6L374.1 246.9L375.8 249.6L374.1 252.3ZM373.6 249.1L375.3 246.4L377.0 249.1L375.3 251.8ZM374.1 247.7L375.8 245.0L377.5 247.7L375.8 250.4ZM375.1 246.7L376.8 244.0L378.5 246.7L376.8 249.4ZM375.2 246.2L376.9 243.5L378.6 246.2L376.9 248.9ZM376.2 245.1L377.9 242.4L379.6 245.1L377.9 247.8ZM376.8 244.2L378.5 241.5L380.2 244.2L378.5 246.9ZM377.6 242.7L379.3 240.0L381.0 242.7L379.3 245.4ZM378.0 242.0L379.7 239.3L381.4 242.0L379.7 244.7ZM379.2 241.4L380.9 238.7L382.6 241.4L380.9 244.1ZM379.6 240.3L381.3 237.6L383.0 240.3L381.3 243.0ZM380.7 239.4L382.4 236.7L384.1 239.4L382.4 242.1ZM381.4 238.4L383.1 235.7L384.8 238.4L383.1 241.1ZM382.5 238.0L384.2 235.3L385.9 238.0L384.2 240.7ZM383.1 236.8L384.8 234.1L386.5 236.8L384.8 239.5ZM384.3 236.3L386.0 233.6L387.7 236.3L386.0 239.0ZM384.7 234.7L386.4 232.0L388.1 234.7L386.4 237.4ZM385.9 234.4L387.6 231.7L389.3 234.4L387.6 237.1ZM386.3 232.7L388.0 230.0L389.7 232.7L388.0 235.4ZM387.2 232.0L388.9 229.3L390.6 232.0L388.9 234.7ZM387.9 231.1L389.6 228.4L391.3 231.1L389.6 233.8ZM388.5 229.8L390.2 227.1L391.9 229.8L390.2 232.5ZM389.1 228.9L390.8 226.2L392.5 228.9L390.8 231.6ZM389.5 228.3L391.2 225.6L392.9 228.3L391.2 231.0ZM390.5 226.8L392.2 224.1L393.9 226.8L392.2 229.5ZM390.7 226.0L392.4 223.3L394.1 226.0L392.4 228.7ZM391.6 225.0L393.3 222.3L395.0 225.0L393.3 227.7ZM392.0 223.9L393.7 221.2L395.4 223.9L393.7 226.6ZM393.1 223.3L394.8 220.6L396.5 223.3L394.8 226.0ZM393.3 222.1L395.0 219.4L396.7 222.1L395.0 224.8ZM394.4 220.7L396.1 218.0L397.8 220.7L396.1 223.4ZM395.2 219.8L396.9 217.1L398.6 219.8L396.9 222.5ZM395.7 219.1L397.4 216.4L399.1 219.1L397.4 221.8ZM396.4 218.0L398.1 215.3L399.8 218.0L398.1 220.7ZM396.9 217.2L398.6 214.5L400.3 217.2L398.6 219.9ZM397.6 216.2L399.3 213.5L401.0 216.2L399.3 218.9ZM398.1 215.0L399.8 212.3L401.5 215.0L399.8 217.7ZM398.4 214.1L400.1 211.4L401.8 214.1L400.1 216.8ZM399.3 212.7L401.0 210.0L402.7 212.7L401.0 215.4ZM400.0 212.0L401.7 209.3L403.4 212.0L401.7 214.7ZM400.4 210.5L402.1 207.8L403.8 210.5L402.1 213.2ZM400.9 209.4L402.6 206.7L404.3 209.4L402.6 212.1ZM401.2 208.6L402.9 205.9L404.6 208.6L402.9 211.3ZM401.8 207.5L403.5 204.8L405.2 207.5L403.5 210.2ZM402.6 206.2L404.3 203.5L406.0 206.2L404.3 208.9ZM403.2 205.1L404.9 202.4L406.6 205.1L404.9 207.8ZM403.9 204.6L405.6 201.9L407.3 204.6L405.6 207.3ZM404.2 203.0L405.9 200.3L407.6 203.0L405.9 205.7ZM404.8 202.2L406.5 199.5L408.2 202.2L406.5 204.9ZM405.7 200.9L407.4 198.2L409.1 200.9L407.4 203.6ZM406.1 200.5L407.8 197.8L409.5 200.5L407.8 203.2ZM406.6 199.3L408.3 196.6L410.0 199.3L408.3 202.0ZM406.8 198.3L408.5 195.6L410.2 198.3L408.5 201.0ZM407.5 197.2L409.2 194.5L410.9 197.2L409.2 199.9ZM408.4 195.6L410.1 192.9L411.8 195.6L410.1 198.3ZM408.9 195.1L410.6 192.4L412.3 195.1L410.6 197.8ZM408.9 193.6L410.6 190.9L412.3 193.6L410.6 196.3ZM410.0 192.4L411.7 189.7L413.4 192.4L411.7 195.1ZM410.7 191.5L412.4 188.8L414.1 191.5L412.4 194.2ZM411.2 190.3L412.9 187.6L414.6 190.3L412.9 193.0ZM411.6 189.8L413.3 187.1L415.0 189.8L413.3 192.5ZM411.9 188.3L413.6 185.6L415.3 188.3L413.6 191.0ZM412.7 187.3L414.4 184.6L416.1 187.3L414.4 190.0ZM413.0 186.2L414.7 183.5L416.4 186.2L414.7 188.9ZM413.6 185.6L415.3 182.9L417.0 185.6L415.3 188.3ZM414.6 184.5L416.3 181.8L418.0 184.5L416.3 187.2ZM414.8 183.4L416.5 180.7L418.2 183.4L416.5 186.1ZM415.3 182.2L417.0 179.5L418.7 182.2L417.0 184.9ZM416.2 181.0L417.9 178.3L419.6 181.0L417.9 183.7ZM416.9 180.0L418.6 177.3L420.3 180.0L418.6 182.7ZM417.2 179.2L418.9 176.5L420.6 179.2L418.9 181.9ZM417.4 178.2L419.1 175.5L420.8 178.2L419.1 180.9ZM418.2 176.7L419.9 174.0L421.6 176.7L419.9 179.4ZM418.9 175.5L420.6 172.8L422.3 175.5L420.6 178.2ZM419.5 174.6L421.2 171.9L422.9 174.6L421.2 177.3ZM419.6 173.7L421.3 171.0L423.0 173.7L421.3 176.4ZM420.1 172.1L421.8 169.4L423.5 172.1L421.8 174.8ZM420.8 171.0L422.5 168.3L424.2 171.0L422.5 173.7ZM421.4 170.0L423.1 167.3L424.8 170.0L423.1 172.7ZM421.8 169.4L423.5 166.7L425.2 169.4L423.5 172.1ZM422.2 168.1L423.9 165.4L425.6 168.1L423.9 170.8ZM422.5 166.6L424.2 163.9L425.9 166.6L424.2 169.3ZM422.8 165.6L424.5 162.9L426.2 165.6L424.5 168.3ZM423.7 164.7L425.4 162.0L427.1 164.7L425.4 167.4ZM424.2 163.9L425.9 161.2L427.6 163.9L425.9 166.6ZM424.4 162.4L426.1 159.7L427.8 162.4L426.1 165.1ZM425.2 161.1L426.9 158.4L428.6 161.1L426.9 163.8ZM425.3 160.3L427.0 157.6L428.7 160.3L427.0 163.0ZM425.8 159.1L427.5 156.4L429.2 159.1L427.5 161.8ZM426.3 158.2L428.0 155.5L429.7 158.2L428.0 160.9ZM427.0 156.8L428.7 154.1L430.4 156.8L428.7 159.5ZM427.4 155.9L429.1 153.2L430.8 155.9L429.1 158.6ZM427.5 155.1L429.2 152.4L430.9 155.1L429.2 157.8ZM428.0 153.4L429.7 150.7L431.4 153.4L429.7 156.1ZM428.3 152.6L430.0 149.9L431.7 152.6L430.0 155.3ZM429.3 151.6L431.0 148.9L432.7 151.6L431.0 154.3ZM429.4 150.1L431.1 147.4L432.8 150.1L431.1 152.8ZM429.5 149.2L431.2 146.5L432.9 149.2L431.2 151.9ZM430.3 147.9L432.0 145.2L433.7 147.9L432.0 150.6ZM430.8 146.9L432.5 144.2L434.2 146.9L432.5 149.6ZM431.4 145.9L433.1 143.2L434.8 145.9L433.1 148.6ZM431.4 144.9L433.1 142.2L434.8 144.9L433.1 147.6ZM431.7 143.5L433.4 140.8L435.1 143.5L433.4 146.2ZM432.3 142.2L434.0 139.5L435.7 142.2L434.0 144.9ZM432.5 141.5L434.2 138.8L435.9 141.5L434.2 144.2ZM432.9 140.2L434.6 137.5L436.3 140.2L434.6 142.9ZM434.0 138.8L435.7 136.1L437.4 138.8L435.7 141.5ZM433.9 138.0L435.6 135.3L437.3 138.0L435.6 140.7ZM434.6 136.9L436.3 134.2L438.0 136.9L436.3 139.6ZM435.2 135.5L436.9 132.8L438.6 135.5L436.9 138.2ZM435.3 134.4L437.0 131.7L438.7 134.4L437.0 137.1ZM435.5 133.7L437.2 131.0L438.9 133.7L437.2 136.4ZM436.5 132.5L438.2 129.8L439.9 132.5L438.2 135.2ZM436.4 131.4L438.1 128.7L439.8 131.4L438.1 134.1ZM437.2 130.0L438.9 127.3L440.6 130.0L438.9 132.7ZM437.6 128.9L439.3 126.2L441.0 128.9L439.3 131.6ZM437.5 127.5L439.2 124.8L440.9 127.5L439.2 130.2ZM437.9 126.3L439.6 123.6L441.3 126.3L439.6 129.0ZM438.2 125.6L439.9 122.9L441.6 125.6L439.9 128.3ZM438.8 124.5L440.5 121.8L442.2 124.5L440.5 127.2ZM439.1 122.9L440.8 120.2L442.5 122.9L440.8 125.6ZM439.3 121.9L441.0 119.2L442.7 121.9L441.0 124.6ZM439.8 120.8L441.5 118.1L443.2 120.8L441.5 123.5ZM439.8 119.7L441.5 117.0L443.2 119.7L441.5 122.4ZM440.6 118.3L442.3 115.6L444.0 118.3L442.3 121.0ZM440.8 117.0L442.5 114.3L444.2 117.0L442.5 119.7ZM440.7 116.0L442.4 113.3L444.1 116.0L442.4 118.7ZM441.3 115.3L443.0 112.6L444.7 115.3L443.0 118.0ZM441.6 113.7L443.3 111.0L445.0 113.7L443.3 116.4ZM442.1 112.6L443.8 109.9L445.5 112.6L443.8 115.3ZM441.9 111.8L443.6 109.1L445.3 111.8L443.6 114.5ZM442.5 110.5L444.2 107.8L445.9 110.5L444.2 113.2ZM442.8 109.5L444.5 106.8L446.2 109.5L444.5 112.2ZM443.0 108.3L444.7 105.6L446.4 108.3L444.7 111.0ZM443.5 107.1L445.2 104.4L446.9 107.1L445.2 109.8ZM443.6 105.9L445.3 103.2L447.0 105.9L445.3 108.6ZM444.0 104.4L445.7 101.7L447.4 104.4L445.7 107.1ZM444.1 103.5L445.8 100.8L447.5 103.5L445.8 106.2ZM444.3 102.5L446.0 99.8L447.7 102.5L446.0 105.2ZM444.7 100.8L446.4 98.1L448.1 100.8L446.4 103.5ZM444.9 100.2L446.6 97.5L448.3 100.2L446.6 102.9ZM445.4 98.5L447.1 95.8L448.8 98.5L447.1 101.2ZM445.5 97.3L447.2 94.6L448.9 97.3L447.2 100.0ZM446.2 96.5L447.9 93.8L449.6 96.5L447.9 99.2ZM446.5 95.4L448.2 92.7L449.9 95.4L448.2 98.1ZM446.3 94.2L448.0 91.5L449.7 94.2L448.0 96.9ZM446.8 93.2L448.5 90.5L450.2 93.2L448.5 95.9ZM447.4 92.0L449.1 89.3L450.8 92.0L449.1 94.7ZM447.1 90.9L448.8 88.2L450.5 90.9L448.8 93.6ZM448.0 89.7L449.7 87.0L451.4 89.7L449.7 92.4ZM447.7 88.1L449.4 85.4L451.1 88.1L449.4 90.8ZM448.0 86.8L449.7 84.1L451.4 86.8L449.7 89.5ZM448.7 86.1L450.4 83.4L452.1 86.1L450.4 88.8ZM448.9 85.0L450.6 82.3L452.3 85.0L450.6 87.7ZM449.1 83.4L450.8 80.7L452.5 83.4L450.8 86.1ZM449.0 82.1L450.7 79.4L452.4 82.1L450.7 84.8ZM449.7 81.0L451.4 78.3L453.1 81.0L451.4 83.7ZM449.7 80.0L451.4 77.3L453.1 80.0L451.4 82.7ZM449.8 78.7L451.5 76.0L453.2 78.7L451.5 81.4ZM450.2 77.9L451.9 75.2L453.6 77.9L451.9 80.6ZM450.5 76.4L452.2 73.7L453.9 76.4L452.2 79.1ZM451.2 75.4L452.9 72.7L454.6 75.4L452.9 78.1ZM451.4 74.3L453.1 71.6L454.8 74.3L453.1 77.0ZM451.1 73.0L452.8 70.3L454.5 73.0L452.8 75.7ZM451.6 72.1L453.3 69.4L455.0 72.1L453.3 74.8ZM451.8 70.8L453.5 68.1L455.2 70.8L453.5 73.5ZM452.2 69.3L453.9 66.6L455.6 69.3L453.9 72.0ZM452.7 68.1L454.4 65.4L456.1 68.1L454.4 70.8ZM453.0 67.0L454.7 64.3L456.4 67.0L454.7 69.7ZM452.6 65.8L454.3 63.1L456.0 65.8L454.3 68.5ZM453.4 65.2L455.1 62.5L456.8 65.2L455.1 67.9ZM453.2 63.7L454.9 61.0L456.6 63.7L454.9 66.4ZM453.8 62.7L455.5 60.0L457.2 62.7L455.5 65.4ZM453.8 61.3L455.5 58.6L457.2 61.3L455.5 64.0ZM454.2 60.4L455.9 57.7L457.6 60.4L455.9 63.1ZM454.4 59.3L456.1 56.6L457.8 59.3L456.1 62.0ZM454.7 57.6L456.4 54.9L458.1 57.6L456.4 60.3ZM455.2 56.7L456.9 54.0L458.6 56.7L456.9 59.4ZM455.1 55.6L456.8 52.9L458.5 55.6L456.8 58.3ZM455.3 54.5L457.0 51.8L458.7 54.5L457.0 57.2ZM456.0 53.3L457.7 50.6L459.4 53.3L457.7 56.0ZM456.2 51.9L457.9 49.2L459.6 51.9L457.9 54.6ZM456.3 50.7L458.0 48.0L459.7 50.7L458.0 53.4ZM456.9 49.3L458.6 46.6L460.3 49.3L458.6 52.0ZM457.2 48.1L458.9 45.4L460.6 48.1L458.9 50.8ZM457.0 47.1L458.7 44.4L460.4 47.1L458.7 49.8ZM457.7 46.1L459.4 43.4L461.1 46.1L459.4 48.8ZM457.6 45.2L459.3 42.5L461.0 45.2L459.3 47.9ZM457.8 43.7L459.5 41.0L461.2 43.7L459.5 46.4ZM458.3 42.8L460.0 40.1L461.7 42.8L460.0 45.5ZM458.7 41.5L460.4 38.8L462.1 41.5L460.4 44.2ZM458.7 40.1L460.4 37.4L462.1 40.1L460.4 42.8ZM458.8 39.3L460.5 36.6L462.2 39.3L460.5 42.0ZM459.4 38.1L461.1 35.4L462.8 38.1L461.1 40.8ZM459.3 36.7L461.0 34.0L462.7 36.7L461.0 39.4ZM460.0 35.6L461.7 32.9L463.4 35.6L461.7 38.3ZM459.8 34.4L461.5 31.7L463.2 34.4L461.5 37.1ZM460.6 33.0L462.3 30.3L464.0 33.0L462.3 35.7ZM460.4 31.9L462.1 29.2L463.8 31.9L462.1 34.6ZM461.0 31.1L462.7 28.4L464.4 31.1L462.7 33.8ZM460.9 29.5L462.6 26.8L464.3 29.5L462.6 32.2ZM461.2 28.4L462.9 25.7L464.6 28.4L462.9 31.1ZM461.7 27.1L463.4 24.4L465.1 27.1L463.4 29.8ZM461.8 26.0L463.5 23.3L465.2 26.0L463.5 28.7ZM462.5 25.2L464.2 22.5L465.9 25.2L464.2 27.9Z"/></g>
<g fill="#00ffff"><path d="M85.8 388.5L86.3 390.0L88.0 390.1L86.7 391.2L87.2 392.8L85.8 391.9L84.3 392.8L84.8 391.2L83.5 390.1L85.2 390.0ZM89.1 388.2L89.7 389.8L91.4 389.9L90.0 390.9L90.5 392.6L89.1 391.6L87.7 392.6L88.1 390.9L86.8 389.9L88.5 389.8ZM92.2 388.1L92.8 389.7L94.5 389.8L93.2 390.8L93.6 392.5L92.2 391.5L90.8 392.5L91.2 390.8L89.9 389.8L91.6 389.7ZM95.3 387.5L95.9 389.1L97.6 389.2L96.3 390.2L96.7 391.9L95.3 390.9L93.9 391.9L94.4 390.2L93.0 389.2L94.7 389.1ZM99.4 386.9L100.0 388.5L101.7 388.6L100.3 389.6L100.8 391.3L99.4 390.3L98.0 391.3L98.4 389.6L97.1 388.6L98.8 388.5ZM102.5 386.7L103.1 388.3L104.8 388.4L103.5 389.5L103.9 391.1L102.5 390.2L101.1 391.1L101.6 389.5L100.2 388.4L101.9 388.3ZM105.6 385.8L106.2 387.4L107.9 387.5L106.5 388.6L107.0 390.2L105.6 389.2L104.2 390.2L104.6 388.6L103.3 387.5L105.0 387.4ZM109.3 385.0L109.9 386.6L111.6 386.7L110.3 387.7L110.7 389.4L109.3 388.4L107.9 389.4L108.4 387.7L107.0 386.7L108.7 386.6ZM112.7 384.5L113.2 386.0L114.9 386.1L113.6 387.2L114.1 388.8L112.7 387.9L111.2 388.8L111.7 387.2L110.4 386.1L112.1 386.0ZM115.9 384.2L116.5 385.8L118.2 385.8L116.8 386.9L117.3 388.5L115.9 387.6L114.5 388.5L114.9 386.9L113.6 385.8L115.3 385.8ZM119.4 383.5L120.0 385.1L121.6 385.2L120.3 386.2L120.8 387.8L119.4 386.9L118.0 387.8L118.4 386.2L117.1 385.2L118.8 385.1ZM122.7 383.2L123.3 384.8L125.0 384.9L123.7 385.9L124.1 387.6L122.7 386.6L121.3 387.6L121.7 385.9L120.4 384.9L122.1 384.8ZM125.7 382.4L126.2 384.0L127.9 384.0L126.6 385.1L127.1 386.7L125.7 385.8L124.2 386.7L124.7 385.1L123.4 384.0L125.1 384.0ZM129.0 381.8L129.6 383.3L131.3 383.4L129.9 384.5L130.4 386.1L129.0 385.2L127.6 386.1L128.0 384.5L126.7 383.4L128.4 383.3ZM132.4 380.7L133.0 382.3L134.7 382.4L133.4 383.4L133.8 385.1L132.4 384.1L131.0 385.1L131.5 383.4L130.1 382.4L131.8 382.3ZM135.8 379.7L136.3 381.2L138.0 381.3L136.7 382.4L137.2 384.0L135.8 383.1L134.3 384.0L134.8 382.4L133.5 381.3L135.2 381.2ZM138.9 379.1L139.5 380.7L141.2 380.8L139.9 381.8L140.3 383.4L138.9 382.5L137.5 383.4L137.9 381.8L136.6 380.8L138.3 380.7ZM142.9 379.2L143.4 380.8L145.1 380.8L143.8 381.9L144.3 383.5L142.9 382.6L141.4 383.5L141.9 381.9L140.6 380.8L142.3 380.8ZM145.9 379.0L146.5 380.5L148.2 380.6L146.9 381.7L147.3 383.3L145.9 382.4L144.5 383.3L145.0 381.7L143.6 380.6L145.3 380.5ZM149.5 378.5L150.1 380.1L151.8 380.2L150.5 381.2L151.0 382.8L149.5 381.9L148.1 382.8L148.6 381.2L147.3 380.2L149.0 380.1ZM152.4 378.7L153.0 380.3L154.7 380.4L153.4 381.4L153.8 383.0L152.4 382.1L151.0 383.0L151.5 381.4L150.1 380.4L151.8 380.3ZM156.0 378.3L156.6 379.9L158.3 380.0L157.0 381.0L157.5 382.6L156.0 381.7L154.6 382.6L155.1 381.0L153.8 380.0L155.4 379.9ZM159.7 378.3L160.3 379.8L162.0 379.9L160.7 381.0L161.1 382.6L159.7 381.7L158.3 382.6L158.8 381.0L157.4 379.9L159.1 379.8ZM163.1 377.3L163.7 378.9L165.4 378.9L164.1 380.0L164.6 381.6L163.1 380.7L161.7 381.6L162.2 380.0L160.9 378.9L162.6 378.9ZM166.1 377.6L166.7 379.2L168.4 379.3L167.1 380.3L167.6 382.0L166.1 381.0L164.7 382.0L165.2 380.3L163.9 379.3L165.6 379.2ZM169.8 376.3L170.4 377.9L172.0 377.9L170.7 379.0L171.2 380.6L169.8 379.7L168.3 380.6L168.8 379.0L167.5 377.9L169.2 377.9ZM172.4 375.1L173.0 376.6L174.6 376.7L173.3 377.8L173.8 379.4L172.4 378.5L171.0 379.4L171.4 377.8L170.1 376.7L171.8 376.6ZM175.5 374.0L176.1 375.6L177.8 375.7L176.5 376.7L176.9 378.4L175.5 377.4L174.1 378.4L174.6 376.7L173.2 375.7L174.9 375.6ZM179.4 373.3L180.0 374.9L181.6 374.9L180.3 376.0L180.8 377.6L179.4 376.7L178.0 377.6L178.4 376.0L177.1 374.9L178.8 374.9ZM182.5 372.5L183.0 374.1L184.7 374.2L183.4 375.2L183.9 376.9L182.5 375.9L181.0 376.9L181.5 375.2L180.2 374.2L181.9 374.1ZM185.8 372.8L186.4 374.4L188.1 374.5L186.7 375.5L187.2 377.2L185.8 376.2L184.4 377.2L184.8 375.5L183.5 374.5L185.2 374.4ZM189.4 372.0L190.0 373.5L191.7 373.6L190.4 374.7L190.8 376.3L189.4 375.4L188.0 376.3L188.4 374.7L187.1 373.6L188.8 373.5ZM192.6 371.8L193.2 373.4L194.9 373.5L193.6 374.5L194.0 376.1L192.6 375.2L191.2 376.1L191.6 374.5L190.3 373.5L192.0 373.4ZM196.2 370.8L196.8 372.4L198.5 372.5L197.2 373.6L197.6 375.2L196.2 374.2L194.8 375.2L195.2 373.6L193.9 372.5L195.6 372.4ZM199.5 370.6L200.1 372.2L201.8 372.2L200.5 373.3L200.9 374.9L199.5 374.0L198.1 374.9L198.5 373.3L197.2 372.2L198.9 372.2ZM202.7 370.0L203.3 371.5L205.0 371.6L203.7 372.7L204.1 374.3L202.7 373.4L201.3 374.3L201.8 372.7L200.5 371.6L202.1 371.5ZM206.0 369.5L206.6 371.1L208.3 371.2L206.9 372.2L207.4 373.8L206.0 372.9L204.6 373.8L205.0 372.2L203.7 371.2L205.4 371.1ZM209.3 368.7L209.9 370.3L211.6 370.4L210.3 371.4L210.7 373.0L209.3 372.1L207.9 373.0L208.4 371.4L207.1 370.4L208.7 370.3ZM212.5 368.6L213.1 370.2L214.8 370.3L213.5 371.3L214.0 373.0L212.5 372.0L211.1 373.0L211.6 371.3L210.3 370.3L212.0 370.2ZM215.8 367.9L216.4 369.4L218.1 369.5L216.8 370.6L217.2 372.2L215.8 371.3L214.4 372.2L214.8 370.6L213.5 369.5L215.2 369.4ZM219.7 367.7L220.3 369.2L222.0 369.3L220.7 370.4L221.1 372.0L219.7 371.1L218.3 372.0L218.8 370.4L217.4 369.3L219.1 369.2ZM222.8 367.4L223.4 368.9L225.1 369.0L223.8 370.1L224.2 371.7L222.8 370.8L221.4 371.7L221.8 370.1L220.5 369.0L222.2 368.9ZM226.6 367.0L227.2 368.6L228.9 368.6L227.5 369.7L228.0 371.3L226.6 370.4L225.2 371.3L225.6 369.7L224.3 368.6L226.0 368.6ZM229.8 367.3L230.4 368.9L232.1 369.0L230.8 370.0L231.2 371.7L229.8 370.7L228.4 371.7L228.9 370.0L227.5 369.0L229.2 368.9ZM232.8 366.4L233.4 368.0L235.1 368.0L233.8 369.1L234.2 370.7L232.8 369.8L231.4 370.7L231.9 369.1L230.5 368.0L232.2 368.0ZM236.6 365.9L237.2 367.5L238.9 367.6L237.6 368.7L238.1 370.3L236.6 369.3L235.2 370.3L235.7 368.7L234.4 367.6L236.1 367.5ZM239.7 364.9L240.2 366.5L241.9 366.5L240.6 367.6L241.1 369.2L239.7 368.3L238.2 369.2L238.7 367.6L237.4 366.5L239.1 366.5ZM243.0 364.3L243.6 365.9L245.3 366.0L244.0 367.0L244.4 368.6L243.0 367.7L241.6 368.6L242.0 367.0L240.7 366.0L242.4 365.9ZM246.5 363.4L247.1 365.0L248.8 365.0L247.5 366.1L247.9 367.7L246.5 366.8L245.1 367.7L245.6 366.1L244.2 365.0L245.9 365.0ZM249.6 362.8L250.1 364.4L251.8 364.5L250.5 365.5L251.0 367.2L249.6 366.2L248.1 367.2L248.6 365.5L247.3 364.5L249.0 364.4ZM251.4 362.4L251.9 364.0L253.6 364.1L252.3 365.1L252.8 366.8L251.4 365.8L249.9 366.8L250.4 365.1L249.1 364.1L250.8 364.0ZM253.0 362.5L253.6 364.1L255.3 364.2L254.0 365.2L254.4 366.8L253.0 365.9L251.6 366.8L252.0 365.2L250.7 364.2L252.4 364.1ZM255.4 362.1L256.0 363.7L257.7 363.7L256.4 364.8L256.8 366.4L255.4 365.5L254.0 366.4L254.5 364.8L253.2 363.7L254.8 363.7ZM257.5 362.4L258.1 364.0L259.8 364.1L258.4 365.1L258.9 366.7L257.5 365.8L256.1 366.7L256.5 365.1L255.2 364.1L256.9 364.0ZM259.0 362.3L259.6 363.8L261.3 363.9L259.9 365.0L260.4 366.6L259.0 365.7L257.6 366.6L258.0 365.0L256.7 363.9L258.4 363.8ZM261.0 361.7L261.5 363.2L263.2 363.3L261.9 364.4L262.4 366.0L261.0 365.1L259.5 366.0L260.0 364.4L258.7 363.3L260.4 363.2ZM263.3 361.6L263.9 363.2L265.6 363.3L264.2 364.3L264.7 366.0L263.3 365.0L261.9 366.0L262.3 364.3L261.0 363.3L262.7 363.2ZM265.0 361.1L265.6 362.7L267.3 362.8L266.0 363.8L266.4 365.5L265.0 364.5L263.6 365.5L264.0 363.8L262.7 362.8L264.4 362.7ZM267.2 360.8L267.8 362.4L269.5 362.5L268.2 363.5L268.6 365.2L267.2 364.2L265.8 365.2L266.3 363.5L264.9 362.5L266.6 362.4ZM268.5 360.2L269.1 361.8L270.8 361.9L269.4 362.9L269.9 364.5L268.5 363.6L267.1 364.5L267.5 362.9L266.2 361.9L267.9 361.8ZM270.8 359.7L271.4 361.2L273.1 361.3L271.7 362.4L272.2 364.0L270.8 363.1L269.4 364.0L269.8 362.4L268.5 361.3L270.2 361.2ZM273.0 359.2L273.6 360.7L275.3 360.8L274.0 361.9L274.4 363.5L273.0 362.6L271.6 363.5L272.1 361.9L270.7 360.8L272.4 360.7ZM274.7 359.1L275.3 360.7L277.0 360.7L275.6 361.8L276.1 363.4L274.7 362.5L273.3 363.4L273.7 361.8L272.4 360.7L274.1 360.7ZM276.6 358.3L277.2 359.9L278.9 359.9L277.5 361.0L278.0 362.6L276.6 361.7L275.2 362.6L275.6 361.0L274.3 359.9L276.0 359.9ZM278.6 358.0L279.2 359.6L280.9 359.7L279.5 360.7L280.0 362.4L278.6 361.4L277.2 362.4L277.6 360.7L276.3 359.7L278.0 359.6ZM280.7 357.5L281.2 359.1L282.9 359.2L281.6 360.2L282.1 361.8L280.7 360.9L279.2 361.8L279.7 360.2L278.4 359.2L280.1 359.1ZM282.4 356.5L283.0 358.0L284.7 358.1L283.3 359.2L283.8 360.8L282.4 359.9L281.0 360.8L281.4 359.2L280.1 358.1L281.8 358.0ZM284.5 356.4L285.1 358.0L286.8 358.1L285.5 359.1L286.0 360.7L284.5 359.8L283.1 360.7L283.6 359.1L282.3 358.1L284.0 358.0ZM286.6 356.1L287.2 357.7L288.8 357.8L287.5 358.8L288.0 360.5L286.6 359.5L285.2 360.5L285.6 358.8L284.3 357.8L286.0 357.7ZM288.0 355.3L288.6 356.9L290.3 357.0L289.0 358.0L289.4 359.6L288.0 358.7L286.6 359.6L287.0 358.0L285.7 357.0L287.4 356.9ZM289.9 355.3L290.5 356.9L292.2 357.0L290.9 358.0L291.3 359.7L289.9 358.7L288.5 359.7L289.0 358.0L287.6 357.0L289.3 356.9ZM291.9 354.2L292.5 355.8L294.2 355.9L292.8 356.9L293.3 358.6L291.9 357.6L290.5 358.6L290.9 356.9L289.6 355.9L291.3 355.8ZM294.3 354.0L294.9 355.6L296.6 355.7L295.3 356.7L295.7 358.4L294.3 357.4L292.9 358.4L293.4 356.7L292.0 355.7L293.7 355.6ZM295.7 353.5L296.3 355.1L297.9 355.2L296.6 356.2L297.1 357.9L295.7 356.9L294.3 357.9L294.7 356.2L293.4 355.2L295.1 355.1ZM298.1 352.8L298.7 354.3L300.4 354.4L299.0 355.5L299.5 357.1L298.1 356.2L296.7 357.1L297.1 355.5L295.8 354.4L297.5 354.3ZM299.4 352.3L300.0 353.8L301.7 353.9L300.4 355.0L300.9 356.6L299.4 355.7L298.0 356.6L298.5 355.0L297.2 353.9L298.9 353.8ZM301.6 354.3L302.2 355.9L303.9 356.0L302.6 357.0L303.0 358.6L301.6 357.7L300.2 358.6L300.7 357.0L299.3 356.0L301.0 355.9ZM304.0 353.8L304.6 355.4L306.3 355.5L304.9 356.5L305.4 358.2L304.0 357.2L302.6 358.2L303.0 356.5L301.7 355.5L303.4 355.4ZM305.8 352.6L306.4 354.2L308.0 354.3L306.7 355.3L307.2 357.0L305.8 356.0L304.3 357.0L304.8 355.3L303.5 354.3L305.2 354.2ZM307.2 352.2L307.8 353.8L309.5 353.9L308.2 355.0L308.6 356.6L307.2 355.6L305.8 356.6L306.3 355.0L304.9 353.9L306.6 353.8ZM308.8 352.0L309.4 353.5L311.1 353.6L309.8 354.7L310.2 356.3L308.8 355.4L307.4 356.3L307.9 354.7L306.6 353.6L308.2 353.5ZM310.9 350.7L311.5 352.3L313.2 352.4L311.9 353.4L312.4 355.1L310.9 354.1L309.5 355.1L310.0 353.4L308.7 352.4L310.4 352.3ZM312.9 350.2L313.5 351.8L315.2 351.9L313.9 352.9L314.3 354.5L312.9 353.6L311.5 354.5L311.9 352.9L310.6 351.9L312.3 351.8ZM315.3 350.0L315.9 351.6L317.6 351.7L316.3 352.7L316.7 354.4L315.3 353.4L313.9 354.4L314.3 352.7L313.0 351.7L314.7 351.6ZM317.0 349.6L317.6 351.1L319.3 351.2L317.9 352.3L318.4 353.9L317.0 353.0L315.6 353.9L316.0 352.3L314.7 351.2L316.4 351.1ZM318.6 349.1L319.2 350.7L320.9 350.7L319.5 351.8L320.0 353.4L318.6 352.5L317.2 353.4L317.6 351.8L316.3 350.7L318.0 350.7ZM321.2 349.0L321.8 350.6L323.5 350.7L322.1 351.7L322.6 353.4L321.2 352.4L319.8 353.4L320.2 351.7L318.9 350.7L320.6 350.6ZM323.1 348.1L323.7 349.7L325.4 349.8L324.1 350.8L324.5 352.4L323.1 351.5L321.7 352.4L322.2 350.8L320.8 349.8L322.5 349.7ZM324.5 347.4L325.1 349.0L326.8 349.1L325.5 350.1L325.9 351.8L324.5 350.8L323.1 351.8L323.6 350.1L322.2 349.1L323.9 349.0ZM326.7 347.2L327.3 348.7L329.0 348.8L327.7 349.9L328.1 351.5L326.7 350.6L325.3 351.5L325.8 349.9L324.4 348.8L326.1 348.7ZM328.6 346.8L329.2 348.4L330.9 348.4L329.6 349.5L330.0 351.1L328.6 350.2L327.2 351.1L327.7 349.5L326.3 348.4L328.0 348.4ZM330.7 346.2L331.2 347.8L332.9 347.9L331.6 348.9L332.1 350.6L330.7 349.6L329.2 350.6L329.7 348.9L328.4 347.9L330.1 347.8ZM332.8 345.6L333.4 347.2L335.0 347.3L333.7 348.3L334.2 349.9L332.8 349.0L331.4 349.9L331.8 348.3L330.5 347.3L332.2 347.2ZM334.8 345.4L335.4 347.0L337.1 347.1L335.8 348.1L336.2 349.7L334.8 348.8L333.4 349.7L333.8 348.1L332.5 347.1L334.2 347.0ZM336.0 344.7L336.6 346.3L338.3 346.4L337.0 347.4L337.5 349.1L336.0 348.1L334.6 349.1L335.1 347.4L333.8 346.4L335.5 346.3ZM338.4 344.3L339.0 345.9L340.6 345.9L339.3 347.0L339.8 348.6L338.4 347.7L337.0 348.6L337.4 347.0L336.1 345.9L337.8 345.9ZM340.3 343.7L340.9 345.3L342.6 345.3L341.3 346.4L341.7 348.0L340.3 347.1L338.9 348.0L339.4 346.4L338.0 345.3L339.7 345.3ZM342.0 343.6L342.6 345.1L344.3 345.2L343.0 346.3L343.4 347.9L342.0 347.0L340.6 347.9L341.1 346.3L339.7 345.2L341.4 345.1ZM344.0 343.0L344.6 344.6L346.2 344.6L344.9 345.7L345.4 347.3L344.0 346.4L342.6 347.3L343.0 345.7L341.7 344.6L343.4 344.6ZM346.3 342.4L346.9 343.9L348.6 344.0L347.3 345.1L347.7 346.7L346.3 345.8L344.9 346.7L345.3 345.1L344.0 344.0L345.7 343.9ZM347.9 342.1L348.5 343.6L350.2 343.7L348.9 344.8L349.4 346.4L347.9 345.5L346.5 346.4L347.0 344.8L345.7 343.7L347.3 343.6ZM349.8 341.3L350.4 342.9L352.1 343.0L350.8 344.1L351.2 345.7L349.8 344.8L348.4 345.7L348.9 344.1L347.5 343.0L349.2 342.9ZM351.4 338.8L352.0 340.4L353.7 340.4L352.3 341.5L352.8 343.1L351.4 342.2L350.0 343.1L350.4 341.5L349.1 340.4L350.8 340.4ZM353.7 337.8L354.3 339.4L356.0 339.4L354.7 340.5L355.1 342.1L353.7 341.2L352.3 342.1L352.8 340.5L351.4 339.4L353.1 339.4ZM355.8 337.1L356.4 338.7L358.1 338.7L356.7 339.8L357.2 341.4L355.8 340.5L354.4 341.4L354.8 339.8L353.5 338.7L355.2 338.7ZM357.4 336.5L358.0 338.0L359.7 338.1L358.4 339.2L358.8 340.8L357.4 339.9L356.0 340.8L356.5 339.2L355.1 338.1L356.8 338.0ZM359.5 336.0L360.1 337.6L361.8 337.7L360.5 338.7L360.9 340.3L359.5 339.4L358.1 340.3L358.6 338.7L357.3 337.7L358.9 337.6ZM361.3 335.1L361.9 336.7L363.6 336.8L362.2 337.9L362.7 339.5L361.3 338.6L359.9 339.5L360.3 337.9L359.0 336.8L360.7 336.7ZM363.0 334.5L363.6 336.1L365.3 336.1L364.0 337.2L364.4 338.8L363.0 337.9L361.6 338.8L362.0 337.2L360.7 336.1L362.4 336.1ZM364.5 333.3L365.1 334.9L366.8 335.0L365.5 336.0L365.9 337.7L364.5 336.7L363.1 337.7L363.6 336.0L362.3 335.0L363.9 334.9ZM366.8 332.5L367.4 334.1L369.1 334.1L367.8 335.2L368.2 336.8L366.8 335.9L365.4 336.8L365.9 335.2L364.5 334.1L366.2 334.1ZM368.7 331.8L369.3 333.3L371.0 333.4L369.7 334.5L370.1 336.1L368.7 335.2L367.3 336.1L367.8 334.5L366.4 333.4L368.1 333.3ZM369.9 330.8L370.5 332.4L372.2 332.5L370.8 333.6L371.3 335.2L369.9 334.3L368.5 335.2L368.9 333.6L367.6 332.5L369.3 332.4ZM372.2 330.7L372.8 332.2L374.5 332.3L373.2 333.4L373.6 335.0L372.2 334.1L370.8 335.0L371.3 333.4L370.0 332.3L371.6 332.2ZM373.7 329.5L374.3 331.1L376.0 331.2L374.7 332.3L375.1 333.9L373.7 333.0L372.3 333.9L372.8 332.3L371.4 331.2L373.1 331.1ZM375.4 328.9L376.0 330.4L377.7 330.5L376.4 331.6L376.8 333.2L375.4 332.3L374.0 333.2L374.4 331.6L373.1 330.5L374.8 330.4ZM377.5 327.4L378.1 328.9L379.8 329.0L378.5 330.1L378.9 331.7L377.5 330.8L376.1 331.7L376.6 330.1L375.2 329.0L376.9 328.9ZM378.8 326.9L379.4 328.5L381.1 328.6L379.8 329.6L380.2 331.2L378.8 330.3L377.4 331.2L377.9 329.6L376.5 328.6L378.2 328.5ZM379.6 324.4L380.2 326.0L381.9 326.1L380.6 327.1L381.0 328.8L379.6 327.8L378.2 328.8L378.6 327.1L377.3 326.1L379.0 326.0ZM381.6 323.1L382.2 324.7L383.9 324.8L382.6 325.8L383.0 327.5L381.6 326.5L380.2 327.5L380.7 325.8L379.3 324.8L381.0 324.7ZM383.7 322.4L384.3 324.0L386.0 324.1L384.7 325.1L385.1 326.8L383.7 325.8L382.3 326.8L382.7 325.1L381.4 324.1L383.1 324.0ZM385.5 321.5L386.1 323.1L387.8 323.2L386.5 324.2L386.9 325.9L385.5 324.9L384.1 325.9L384.6 324.2L383.2 323.2L384.9 323.1ZM387.6 320.9L388.2 322.5L389.9 322.5L388.6 323.6L389.1 325.2L387.6 324.3L386.2 325.2L386.7 323.6L385.4 322.5L387.1 322.5ZM389.4 319.9L390.0 321.5L391.7 321.6L390.4 322.6L390.8 324.3L389.4 323.3L388.0 324.3L388.5 322.6L387.1 321.6L388.8 321.5ZM391.2 319.7L391.8 321.3L393.5 321.4L392.2 322.4L392.6 324.1L391.2 323.1L389.8 324.1L390.2 322.4L388.9 321.4L390.6 321.3ZM392.7 318.1L393.3 319.7L394.9 319.7L393.6 320.8L394.1 322.4L392.7 321.5L391.2 322.4L391.7 320.8L390.4 319.7L392.1 319.7ZM394.4 317.6L395.0 319.2L396.7 319.3L395.4 320.4L395.8 322.0L394.4 321.1L393.0 322.0L393.5 320.4L392.1 319.3L393.8 319.2ZM396.0 316.6L396.6 318.2L398.3 318.3L397.0 319.3L397.5 320.9L396.0 320.0L394.6 320.9L395.1 319.3L393.8 318.3L395.5 318.2ZM397.7 315.5L398.3 317.1L400.0 317.2L398.6 318.2L399.1 319.9L397.7 318.9L396.3 319.9L396.7 318.2L395.4 317.2L397.1 317.1ZM399.9 314.5L400.5 316.1L402.2 316.1L400.9 317.2L401.3 318.8L399.9 317.9L398.5 318.8L398.9 317.2L397.6 316.1L399.3 316.1ZM401.5 313.2L402.1 314.7L403.8 314.8L402.5 315.9L403.0 317.5L401.5 316.6L400.1 317.5L400.6 315.9L399.3 314.8L401.0 314.7ZM403.4 312.1L403.9 313.7L405.6 313.7L404.3 314.8L404.8 316.4L403.4 315.5L401.9 316.4L402.4 314.8L401.1 313.7L402.8 313.7ZM405.1 311.7L405.7 313.3L407.4 313.4L406.1 314.4L406.5 316.0L405.1 315.1L403.7 316.0L404.2 314.4L402.8 313.4L404.5 313.3ZM406.8 310.2L407.4 311.8L409.1 311.9L407.8 312.9L408.2 314.6L406.8 313.6L405.4 314.6L405.8 312.9L404.5 311.9L406.2 311.8ZM407.9 308.9L408.5 310.5L410.2 310.6L408.9 311.6L409.3 313.3L407.9 312.3L406.5 313.3L407.0 311.6L405.6 310.6L407.3 310.5ZM409.9 307.9L410.5 309.5L412.2 309.5L410.9 310.6L411.3 312.2L409.9 311.3L408.5 312.2L408.9 310.6L407.6 309.5L409.3 309.5ZM411.7 306.4L412.3 308.0L414.0 308.1L412.6 309.1L413.1 310.7L411.7 309.8L410.3 310.7L410.7 309.1L409.4 308.1L411.1 308.0ZM412.9 305.8L413.5 307.4L415.2 307.5L413.9 308.6L414.4 310.2L412.9 309.3L411.5 310.2L412.0 308.6L410.7 307.5L412.3 307.4ZM414.7 304.4L415.2 306.0L416.9 306.1L415.6 307.1L416.1 308.8L414.7 307.8L413.2 308.8L413.7 307.1L412.4 306.1L414.1 306.0ZM415.9 302.9L416.5 304.5L418.2 304.6L416.8 305.6L417.3 307.3L415.9 306.3L414.5 307.3L414.9 305.6L413.6 304.6L415.3 304.5ZM417.6 302.3L418.2 303.9L419.9 304.0L418.6 305.1L419.0 306.7L417.6 305.8L416.2 306.7L416.7 305.1L415.3 304.0L417.0 303.9ZM419.6 300.6L420.2 302.1L421.9 302.2L420.6 303.3L421.1 304.9L419.6 304.0L418.2 304.9L418.7 303.3L417.4 302.2L419.1 302.1ZM421.2 299.1L421.8 300.6L423.5 300.7L422.1 301.8L422.6 303.4L421.2 302.5L419.8 303.4L420.2 301.8L418.9 300.7L420.6 300.6ZM422.4 298.4L423.0 300.0L424.6 300.1L423.3 301.1L423.8 302.8L422.4 301.8L420.9 302.8L421.4 301.1L420.1 300.1L421.8 300.0ZM423.6 297.0L424.2 298.6L425.9 298.7L424.6 299.7L425.0 301.3L423.6 300.4L422.2 301.3L422.6 299.7L421.3 298.7L423.0 298.6ZM425.3 294.9L425.9 296.5L427.6 296.6L426.2 297.6L426.7 299.2L425.3 298.3L423.9 299.2L424.3 297.6L423.0 296.6L424.7 296.5ZM426.5 293.8L427.1 295.4L428.7 295.5L427.4 296.5L427.9 298.2L426.5 297.2L425.1 298.2L425.5 296.5L424.2 295.5L425.9 295.4ZM427.8 292.7L428.4 294.3L430.1 294.3L428.8 295.4L429.2 297.0L427.8 296.1L426.4 297.0L426.9 295.4L425.6 294.3L427.2 294.3ZM429.2 291.3L429.8 292.9L431.5 293.0L430.2 294.0L430.6 295.7L429.2 294.7L427.8 295.7L428.3 294.0L426.9 293.0L428.6 292.9ZM430.8 289.4L431.4 291.0L433.1 291.0L431.7 292.1L432.2 293.7L430.8 292.8L429.4 293.7L429.8 292.1L428.5 291.0L430.2 291.0ZM432.5 288.1L433.1 289.7L434.8 289.7L433.4 290.8L433.9 292.4L432.5 291.5L431.1 292.4L431.5 290.8L430.2 289.7L431.9 289.7ZM434.0 287.4L434.6 289.0L436.3 289.0L435.0 290.1L435.4 291.7L434.0 290.8L432.6 291.7L433.1 290.1L431.8 289.0L433.4 289.0ZM435.7 285.9L436.3 287.5L437.9 287.6L436.6 288.6L437.1 290.3L435.7 289.3L434.3 290.3L434.7 288.6L433.4 287.6L435.1 287.5ZM436.8 284.7L437.4 286.3L439.1 286.4L437.7 287.4L438.2 289.0L436.8 288.1L435.4 289.0L435.8 287.4L434.5 286.4L436.2 286.3ZM438.2 283.3L438.8 284.9L440.5 285.0L439.1 286.0L439.6 287.7L438.2 286.7L436.8 287.7L437.2 286.0L435.9 285.0L437.6 284.9ZM438.0 282.4L438.6 284.0L440.3 284.1L438.9 285.1L439.4 286.8L438.0 285.8L436.6 286.8L437.0 285.1L435.7 284.1L437.4 284.0ZM439.4 280.7L440.0 282.3L441.7 282.4L440.4 283.4L440.8 285.1L439.4 284.1L438.0 285.1L438.5 283.4L437.1 282.4L438.8 282.3ZM441.0 279.1L441.6 280.7L443.3 280.7L442.0 281.8L442.4 283.4L441.0 282.5L439.6 283.4L440.1 281.8L438.7 280.7L440.4 280.7ZM442.0 278.3L442.6 279.8L444.3 279.9L443.0 281.0L443.4 282.6L442.0 281.7L440.6 282.6L441.1 281.0L439.7 279.9L441.4 279.8ZM443.5 276.7L444.1 278.3L445.8 278.4L444.5 279.4L444.9 281.1L443.5 280.1L442.1 281.1L442.6 279.4L441.2 278.4L442.9 278.3ZM445.3 275.0L445.9 276.6L447.6 276.7L446.3 277.7L446.7 279.3L445.3 278.4L443.9 279.3L444.4 277.7L443.0 276.7L444.7 276.6ZM446.1 273.2L446.7 274.8L448.4 274.9L447.1 275.9L447.5 277.6L446.1 276.6L444.7 277.6L445.2 275.9L443.8 274.9L445.5 274.8ZM448.1 271.8L448.7 273.4L450.4 273.5L449.0 274.5L449.5 276.1L448.1 275.2L446.7 276.1L447.1 274.5L445.8 273.5L447.5 273.4ZM449.1 270.7L449.7 272.3L451.4 272.3L450.1 273.4L450.6 275.0L449.1 274.1L447.7 275.0L448.2 273.4L446.9 272.3L448.5 272.3ZM450.1 269.1L450.7 270.7L452.4 270.8L451.1 271.8L451.6 273.4L450.1 272.5L448.7 273.4L449.2 271.8L447.9 270.8L449.6 270.7ZM451.4 267.6L452.0 269.2L453.7 269.3L452.4 270.3L452.9 271.9L451.4 271.0L450.0 271.9L450.5 270.3L449.2 269.3L450.9 269.2ZM453.0 265.9L453.6 267.5L455.3 267.6L453.9 268.6L454.4 270.3L453.0 269.3L451.6 270.3L452.0 268.6L450.7 267.6L452.4 267.5ZM454.0 264.4L454.6 266.0L456.3 266.1L455.0 267.1L455.4 268.7L454.0 267.8L452.6 268.7L453.0 267.1L451.7 266.1L453.4 266.0ZM455.2 262.6L455.8 264.2L457.5 264.3L456.2 265.3L456.7 266.9L455.2 266.0L453.8 266.9L454.3 265.3L453.0 264.3L454.6 264.2ZM456.5 261.6L457.1 263.2L458.8 263.3L457.5 264.3L457.9 266.0L456.5 265.0L455.1 266.0L455.6 264.3L454.2 263.3L455.9 263.2ZM458.0 260.1L458.6 261.7L460.2 261.7L458.9 262.8L459.4 264.4L458.0 263.5L456.6 264.4L457.0 262.8L455.7 261.7L457.4 261.7ZM458.8 258.6L459.4 260.1L461.1 260.2L459.8 261.3L460.2 262.9L458.8 262.0L457.4 262.9L457.9 261.3L456.5 260.2L458.2 260.1ZM460.4 256.9L461.0 258.5L462.7 258.5L461.4 259.6L461.8 261.2L460.4 260.3L459.0 261.2L459.5 259.6L458.2 258.5L459.8 258.5ZM461.7 255.2L462.3 256.8L464.0 256.8L462.7 257.9L463.1 259.5L461.7 258.6L460.3 259.5L460.7 257.9L459.4 256.8L461.1 256.8ZM462.5 253.6L463.1 255.2L464.8 255.2L463.5 256.3L463.9 257.9L462.5 257.0L461.1 257.9L461.6 256.3L460.3 255.2L461.9 255.2ZM463.6 251.5L464.2 253.1L465.9 253.2L464.5 254.2L465.0 255.8L463.6 254.9L462.2 255.8L462.6 254.2L461.3 253.2L463.0 253.1ZM464.6 249.9L465.2 251.5L466.9 251.6L465.5 252.7L466.0 254.3L464.6 253.3L463.2 254.3L463.6 252.7L462.3 251.6L464.0 251.5ZM466.1 248.2L466.7 249.8L468.4 249.9L467.0 250.9L467.5 252.5L466.1 251.6L464.7 252.5L465.1 250.9L463.8 249.9L465.5 249.8ZM467.5 246.4L468.1 247.9L469.8 248.0L468.4 249.1L468.9 250.7L467.5 249.8L466.1 250.7L466.5 249.1L465.2 248.0L466.9 247.9ZM468.3 244.8L468.9 246.4L470.6 246.5L469.3 247.5L469.7 249.2L468.3 248.2L466.9 249.2L467.4 247.5L466.1 246.5L467.7 246.4ZM469.5 243.6L470.0 245.2L471.7 245.2L470.4 246.3L470.9 247.9L469.5 247.0L468.0 247.9L468.5 246.3L467.2 245.2L468.9 245.2ZM470.6 241.3L471.2 242.9L472.9 243.0L471.6 244.0L472.0 245.7L470.6 244.7L469.2 245.7L469.7 244.0L468.3 243.0L470.0 242.9ZM471.3 240.0L471.9 241.6L473.5 241.7L472.2 242.7L472.7 244.4L471.3 243.4L469.9 244.4L470.3 242.7L469.0 241.7L470.7 241.6ZM472.9 237.9L473.4 239.4L475.1 239.5L473.8 240.6L474.3 242.2L472.9 241.3L471.4 242.2L471.9 240.6L470.6 239.5L472.3 239.4ZM473.6 236.6L474.2 238.2L475.9 238.3L474.5 239.4L475.0 241.0L473.6 240.1L472.2 241.0L472.6 239.4L471.3 238.3L473.0 238.2ZM474.7 234.6L475.3 236.2L477.0 236.3L475.7 237.3L476.1 239.0L474.7 238.0L473.3 239.0L473.8 237.3L472.4 236.3L474.1 236.2ZM475.7 233.0L476.3 234.6L478.0 234.6L476.7 235.7L477.1 237.3L475.7 236.4L474.3 237.3L474.7 235.7L473.4 234.6L475.1 234.6ZM476.8 230.9L477.4 232.5L479.1 232.5L477.7 233.6L478.2 235.2L476.8 234.3L475.4 235.2L475.8 233.6L474.5 232.5L476.2 232.5ZM477.8 229.5L478.4 231.1L480.1 231.1L478.8 232.2L479.2 233.8L477.8 232.9L476.4 233.8L476.8 232.2L475.5 231.1L477.2 231.1ZM478.4 227.5L479.0 229.1L480.6 229.1L479.3 230.2L479.8 231.8L478.4 230.9L476.9 231.8L477.4 230.2L476.1 229.1L477.8 229.1ZM479.2 226.3L479.8 227.8L481.5 227.9L480.2 229.0L480.6 230.6L479.2 229.7L477.8 230.6L478.3 229.0L476.9 227.9L478.6 227.8ZM480.6 224.1L481.2 225.6L482.8 225.7L481.5 226.8L482.0 228.4L480.6 227.5L479.2 228.4L479.6 226.8L478.3 225.7L480.0 225.6ZM481.3 222.3L481.9 223.9L483.6 224.0L482.2 225.0L482.7 226.6L481.3 225.7L479.9 226.6L480.3 225.0L479.0 224.0L480.7 223.9ZM482.0 220.6L482.6 222.2L484.3 222.2L483.0 223.3L483.5 224.9L482.0 224.0L480.6 224.9L481.1 223.3L479.8 222.2L481.4 222.2ZM482.9 219.3L483.5 220.9L485.2 221.0L483.9 222.1L484.3 223.7L482.9 222.7L481.5 223.7L482.0 222.1L480.7 221.0L482.3 220.9ZM484.2 217.3L484.8 218.9L486.5 219.0L485.2 220.1L485.6 221.7L484.2 220.8L482.8 221.7L483.3 220.1L481.9 219.0L483.6 218.9ZM484.6 215.3L485.2 216.8L486.9 216.9L485.5 218.0L486.0 219.6L484.6 218.7L483.2 219.6L483.6 218.0L482.3 216.9L484.0 216.8ZM485.6 213.7L486.2 215.3L487.9 215.4L486.5 216.4L487.0 218.1L485.6 217.1L484.2 218.1L484.6 216.4L483.3 215.4L485.0 215.3ZM486.3 211.7L486.9 213.3L488.6 213.3L487.3 214.4L487.7 216.0L486.3 215.1L484.9 216.0L485.3 214.4L484.0 213.3L485.7 213.3ZM486.6 209.8L487.2 211.4L488.9 211.5L487.6 212.5L488.0 214.1L486.6 213.2L485.2 214.1L485.7 212.5L484.3 211.5L486.0 211.4ZM487.9 208.1L488.5 209.7L490.2 209.7L488.9 210.8L489.3 212.4L487.9 211.5L486.5 212.4L486.9 210.8L485.6 209.7L487.3 209.7ZM488.0 206.2L488.6 207.8L490.3 207.8L489.0 208.9L489.4 210.5L488.0 209.6L486.6 210.5L487.1 208.9L485.8 207.8L487.4 207.8ZM488.9 203.9L489.5 205.4L491.2 205.5L489.9 206.6L490.4 208.2L488.9 207.3L487.5 208.2L488.0 206.6L486.7 205.5L488.4 205.4ZM490.1 202.4L490.7 204.0L492.4 204.0L491.1 205.1L491.5 206.7L490.1 205.8L488.7 206.7L489.2 205.1L487.8 204.0L489.5 204.0ZM490.6 200.1L491.2 201.7L492.9 201.7L491.6 202.8L492.0 204.4L490.6 203.5L489.2 204.4L489.7 202.8L488.4 201.7L490.0 201.7ZM491.4 198.8L492.0 200.4L493.7 200.5L492.3 201.6L492.8 203.2L491.4 202.2L490.0 203.2L490.4 201.6L489.1 200.5L490.8 200.4ZM492.1 196.8L492.7 198.4L494.4 198.5L493.1 199.5L493.5 201.1L492.1 200.2L490.7 201.1L491.2 199.5L489.8 198.5L491.5 198.4ZM492.8 195.0L493.3 196.6L495.0 196.6L493.7 197.7L494.2 199.3L492.8 198.4L491.3 199.3L491.8 197.7L490.5 196.6L492.2 196.6ZM493.2 192.8L493.8 194.4L495.5 194.5L494.2 195.5L494.7 197.1L493.2 196.2L491.8 197.1L492.3 195.5L491.0 194.5L492.7 194.4ZM494.1 191.2L494.7 192.8L496.4 192.9L495.1 193.9L495.5 195.5L494.1 194.6L492.7 195.5L493.2 193.9L491.8 192.9L493.5 192.8ZM494.8 188.9L495.4 190.5L497.1 190.6L495.8 191.6L496.2 193.3L494.8 192.3L493.4 193.3L493.9 191.6L492.5 190.6L494.2 190.5ZM495.6 187.2L496.2 188.8L497.8 188.9L496.5 189.9L497.0 191.6L495.6 190.6L494.2 191.6L494.6 189.9L493.3 188.9L495.0 188.8ZM496.2 185.0L496.8 186.6L498.5 186.7L497.2 187.7L497.6 189.4L496.2 188.4L494.8 189.4L495.3 187.7L493.9 186.7L495.6 186.6ZM496.9 183.7L497.5 185.3L499.2 185.3L497.9 186.4L498.3 188.0L496.9 187.1L495.5 188.0L496.0 186.4L494.6 185.3L496.3 185.3ZM497.0 181.8L497.6 183.4L499.3 183.5L498.0 184.5L498.4 186.2L497.0 185.2L495.6 186.2L496.1 184.5L494.7 183.5L496.4 183.4ZM497.7 179.4L498.3 181.0L500.0 181.1L498.6 182.1L499.1 183.8L497.7 182.8L496.3 183.8L496.7 182.1L495.4 181.1L497.1 181.0ZM498.5 177.6L499.1 179.2L500.8 179.2L499.5 180.3L500.0 181.9L498.5 181.0L497.1 181.9L497.6 180.3L496.3 179.2L497.9 179.2ZM499.2 176.2L499.8 177.8L501.5 177.9L500.2 178.9L500.7 180.6L499.2 179.6L497.8 180.6L498.3 178.9L497.0 177.9L498.7 177.8ZM500.1 174.2L500.7 175.8L502.4 175.9L501.0 176.9L501.5 178.5L500.1 177.6L498.7 178.5L499.1 176.9L497.8 175.9L499.5 175.8ZM500.5 172.4L501.1 174.0L502.8 174.0L501.5 175.1L501.9 176.7L500.5 175.8L499.1 176.7L499.6 175.1L498.2 174.0L499.9 174.0ZM501.5 170.4L502.1 172.0L503.8 172.1L502.5 173.1L502.9 174.7L501.5 173.8L500.1 174.7L500.5 173.1L499.2 172.1L500.9 172.0ZM502.3 168.6L502.9 170.2L504.6 170.3L503.3 171.3L503.7 173.0L502.3 172.0L500.9 173.0L501.3 171.3L500.0 170.3L501.7 170.2ZM502.5 166.2L503.1 167.7L504.8 167.8L503.5 168.9L503.9 170.5L502.5 169.6L501.1 170.5L501.6 168.9L500.2 167.8L501.9 167.7ZM503.3 164.8L503.9 166.4L505.6 166.5L504.3 167.6L504.7 169.2L503.3 168.3L501.9 169.2L502.4 167.6L501.0 166.5L502.7 166.4ZM503.7 162.8L504.3 164.3L506.0 164.4L504.6 165.5L505.1 167.1L503.7 166.2L502.3 167.1L502.7 165.5L501.4 164.4L503.1 164.3ZM504.7 161.0L505.3 162.6L507.0 162.7L505.7 163.7L506.1 165.3L504.7 164.4L503.3 165.3L503.7 163.7L502.4 162.7L504.1 162.6ZM504.7 158.9L505.2 160.4L506.9 160.5L505.6 161.6L506.1 163.2L504.7 162.3L503.2 163.2L503.7 161.6L502.4 160.5L504.1 160.4ZM505.3 156.7L505.9 158.2L507.6 158.3L506.3 159.4L506.7 161.0L505.3 160.1L503.9 161.0L504.3 159.4L503.0 158.3L504.7 158.2ZM506.6 155.0L507.2 156.6L508.8 156.7L507.5 157.7L508.0 159.4L506.6 158.4L505.2 159.4L505.6 157.7L504.3 156.7L506.0 156.6ZM507.0 153.1L507.6 154.7L509.3 154.8L508.0 155.9L508.4 157.5L507.0 156.6L505.6 157.5L506.1 155.9L504.8 154.8L506.4 154.7ZM507.5 151.1L508.1 152.6L509.7 152.7L508.4 153.8L508.9 155.4L507.5 154.5L506.1 155.4L506.5 153.8L505.2 152.7L506.9 152.6ZM508.1 149.7L508.7 151.2L510.4 151.3L509.1 152.4L509.5 154.0L508.1 153.1L506.7 154.0L507.2 152.4L505.8 151.3L507.5 151.2ZM508.9 147.3L509.5 148.9L511.2 149.0L509.9 150.0L510.3 151.7L508.9 150.7L507.5 151.7L508.0 150.0L506.7 149.0L508.3 148.9ZM509.0 145.4L509.6 147.0L511.3 147.0L510.0 148.1L510.4 149.7L509.0 148.8L507.6 149.7L508.1 148.1L506.8 147.0L508.4 147.0ZM510.0 143.6L510.6 145.1L512.3 145.2L510.9 146.3L511.4 147.9L510.0 147.0L508.6 147.9L509.0 146.3L507.7 145.2L509.4 145.1ZM510.4 141.9L511.0 143.5L512.7 143.6L511.4 144.6L511.8 146.3L510.4 145.3L509.0 146.3L509.5 144.6L508.1 143.6L509.8 143.5ZM510.5 139.9L511.1 141.5L512.7 141.5L511.4 142.6L511.9 144.2L510.5 143.3L509.0 144.2L509.5 142.6L508.2 141.5L509.9 141.5ZM510.9 138.0L511.5 139.6L513.1 139.7L511.8 140.7L512.3 142.4L510.9 141.4L509.5 142.4L509.9 140.7L508.6 139.7L510.3 139.6ZM511.4 135.6L512.0 137.2L513.7 137.3L512.4 138.4L512.9 140.0L511.4 139.1L510.0 140.0L510.5 138.4L509.2 137.3L510.9 137.2ZM512.5 133.8L513.1 135.4L514.8 135.4L513.5 136.5L513.9 138.1L512.5 137.2L511.1 138.1L511.6 136.5L510.3 135.4L511.9 135.4ZM512.4 132.2L513.0 133.8L514.7 133.9L513.3 135.0L513.8 136.6L512.4 135.7L511.0 136.6L511.4 135.0L510.1 133.9L511.8 133.8ZM513.1 130.3L513.7 131.9L515.4 132.0L514.1 133.0L514.5 134.6L513.1 133.7L511.7 134.6L512.2 133.0L510.8 132.0L512.5 131.9ZM513.4 128.0L514.0 129.6L515.7 129.7L514.3 130.7L514.8 132.4L513.4 131.4L512.0 132.4L512.4 130.7L511.1 129.7L512.8 129.6ZM514.2 126.1L514.8 127.7L516.5 127.7L515.2 128.8L515.6 130.4L514.2 129.5L512.8 130.4L513.3 128.8L511.9 127.7L513.6 127.7ZM514.7 123.9L515.3 125.4L516.9 125.5L515.6 126.6L516.1 128.2L514.7 127.3L513.3 128.2L513.7 126.6L512.4 125.5L514.1 125.4ZM514.9 121.9L515.5 123.5L517.2 123.5L515.9 124.6L516.4 126.2L514.9 125.3L513.5 126.2L514.0 124.6L512.7 123.5L514.4 123.5ZM515.1 119.8L515.7 121.4L517.4 121.5L516.1 122.5L516.5 124.1L515.1 123.2L513.7 124.1L514.2 122.5L512.8 121.5L514.5 121.4ZM515.2 118.6L515.8 120.2L517.5 120.3L516.2 121.3L516.7 122.9L515.2 122.0L513.8 122.9L514.3 121.3L513.0 120.3L514.7 120.2ZM515.9 116.5L516.5 118.1L518.2 118.2L516.8 119.2L517.3 120.9L515.9 119.9L514.5 120.9L514.9 119.2L513.6 118.2L515.3 118.1ZM516.1 114.2L516.7 115.8L518.4 115.9L517.1 116.9L517.5 118.5L516.1 117.6L514.7 118.5L515.2 116.9L513.8 115.9L515.5 115.8ZM516.4 112.4L517.0 114.0L518.7 114.1L517.4 115.1L517.8 116.7L516.4 115.8L515.0 116.7L515.5 115.1L514.1 114.1L515.8 114.0ZM517.4 110.4L518.0 112.0L519.7 112.1L518.4 113.1L518.8 114.8L517.4 113.8L516.0 114.8L516.5 113.1L515.1 112.1L516.8 112.0ZM517.4 108.8L518.0 110.4L519.7 110.4L518.4 111.5L518.8 113.1L517.4 112.2L516.0 113.1L516.4 111.5L515.1 110.4L516.8 110.4ZM518.1 106.6L518.7 108.2L520.4 108.3L519.1 109.3L519.6 110.9L518.1 110.0L516.7 110.9L517.2 109.3L515.9 108.3L517.6 108.2ZM517.8 104.6L518.4 106.2L520.1 106.3L518.8 107.3L519.2 108.9L517.8 108.0L516.4 108.9L516.9 107.3L515.5 106.3L517.2 106.2ZM518.5 102.9L519.1 104.5L520.8 104.6L519.4 105.6L519.9 107.2L518.5 106.3L517.1 107.2L517.5 105.6L516.2 104.6L517.9 104.5ZM518.8 100.7L519.4 102.3L521.1 102.3L519.7 103.4L520.2 105.0L518.8 104.1L517.4 105.0L517.8 103.4L516.5 102.3L518.2 102.3ZM519.4 98.5L519.9 100.1L521.6 100.2L520.3 101.2L520.8 102.8L519.4 101.9L517.9 102.8L518.4 101.2L517.1 100.2L518.8 100.1ZM519.6 96.8L520.2 98.4L521.9 98.4L520.6 99.5L521.0 101.1L519.6 100.2L518.2 101.1L518.7 99.5L517.3 98.4L519.0 98.4ZM520.3 94.7L520.9 96.2L522.6 96.3L521.3 97.4L521.7 99.0L520.3 98.1L518.9 99.0L519.3 97.4L518.0 96.3L519.7 96.2ZM520.2 93.1L520.8 94.7L522.5 94.7L521.2 95.8L521.6 97.4L520.2 96.5L518.8 97.4L519.3 95.8L517.9 94.7L519.6 94.7ZM520.3 91.0L520.9 92.6L522.6 92.7L521.3 93.7L521.8 95.3L520.3 94.4L518.9 95.3L519.4 93.7L518.1 92.7L519.7 92.6ZM521.2 88.8L521.8 90.4L523.5 90.5L522.2 91.5L522.6 93.1L521.2 92.2L519.8 93.1L520.2 91.5L518.9 90.5L520.6 90.4ZM521.4 87.0L522.0 88.6L523.7 88.7L522.3 89.7L522.8 91.3L521.4 90.4L520.0 91.3L520.4 89.7L519.1 88.7L520.8 88.6ZM522.1 85.0L522.7 86.6L524.4 86.7L523.1 87.7L523.5 89.4L522.1 88.4L520.7 89.4L521.2 87.7L519.8 86.7L521.5 86.6ZM522.4 82.5L523.0 84.1L524.7 84.2L523.3 85.2L523.8 86.8L522.4 85.9L521.0 86.8L521.4 85.2L520.1 84.2L521.8 84.1ZM522.4 80.6L523.0 82.2L524.7 82.3L523.3 83.3L523.8 84.9L522.4 84.0L521.0 84.9L521.4 83.3L520.1 82.3L521.8 82.2ZM523.2 79.2L523.8 80.8L525.5 80.9L524.1 81.9L524.6 83.6L523.2 82.6L521.8 83.6L522.2 81.9L520.9 80.9L522.6 80.8ZM522.8 77.0L523.4 78.6L525.1 78.7L523.8 79.7L524.2 81.3L522.8 80.4L521.4 81.3L521.9 79.7L520.5 78.7L522.2 78.6ZM523.5 74.6L524.1 76.2L525.7 76.3L524.4 77.3L524.9 78.9L523.5 78.0L522.1 78.9L522.5 77.3L521.2 76.3L522.9 76.2ZM523.6 73.2L524.2 74.8L525.9 74.8L524.6 75.9L525.0 77.5L523.6 76.6L522.2 77.5L522.7 75.9L521.3 74.8L523.0 74.8ZM524.1 70.8L524.7 72.4L526.4 72.5L525.1 73.5L525.5 75.2L524.1 74.2L522.7 75.2L523.1 73.5L521.8 72.5L523.5 72.4ZM524.5 68.9L525.1 70.4L526.8 70.5L525.5 71.6L525.9 73.2L524.5 72.3L523.1 73.2L523.5 71.6L522.2 70.5L523.9 70.4ZM524.6 67.0L525.2 68.6L526.9 68.6L525.6 69.7L526.0 71.3L524.6 70.4L523.2 71.3L523.7 69.7L522.3 68.6L524.0 68.6ZM525.3 65.2L525.8 66.8L527.5 66.8L526.2 67.9L526.7 69.5L525.3 68.6L523.8 69.5L524.3 67.9L523.0 66.8L524.7 66.8ZM525.4 63.2L526.0 64.8L527.7 64.9L526.4 65.9L526.8 67.6L525.4 66.6L524.0 67.6L524.5 65.9L523.1 64.9L524.8 64.8ZM525.4 61.5L526.0 63.1L527.7 63.1L526.3 64.2L526.8 65.8L525.4 64.9L524.0 65.8L524.4 64.2L523.1 63.1L524.8 63.1Z"/></g>
<g fill="none" stroke="#000" stroke-width="1.15"><path d="M84.2 399.1H89.0M86.6 396.7V401.5M84.4 396.9L88.8 401.3M84.4 401.3L88.8 396.9M85.5 398.8H90.3M87.9 396.4V401.2M85.6 396.6L90.1 401.0M85.6 401.0L90.1 396.6M87.2 398.1H92.0M89.6 395.7V400.5M87.3 395.9L91.8 400.3M87.3 400.3L91.8 395.9M89.2 397.9H94.0M91.6 395.5V400.3M89.4 395.7L93.8 400.2M89.4 400.2L93.8 395.7M90.2 397.5H95.0M92.6 395.1V399.9M90.4 395.3L94.8 399.7M90.4 399.7L94.8 395.3M91.9 397.9H96.7M94.3 395.5V400.3M92.1 395.7L96.5 400.1M92.1 400.1L96.5 395.7M93.4 396.9H98.2M95.8 394.5V399.3M93.6 394.7L98.0 399.1M93.6 399.1L98.0 394.7M95.7 396.7H100.5M98.1 394.3V399.1M95.9 394.5L100.3 398.9M95.9 398.9L100.3 394.5M96.7 396.8H101.5M99.1 394.4V399.2M96.9 394.6L101.3 399.0M96.9 399.0L101.3 394.6M98.9 396.4H103.7M101.3 394.0V398.8M99.1 394.1L103.5 398.6M99.1 398.6L103.5 394.1M100.7 395.6H105.5M103.1 393.2V398.0M100.9 393.4L105.3 397.8M100.9 397.8L105.3 393.4M102.5 395.8H107.3M104.9 393.4V398.2M102.7 393.6L107.1 398.0M102.7 398.0L107.1 393.6M103.4 394.9H108.2M105.8 392.5V397.3M103.6 392.7L108.0 397.1M103.6 397.1L108.0 392.7M105.5 394.9H110.3M107.9 392.5V397.3M105.7 392.7L110.1 397.1M105.7 397.1L110.1 392.7M106.9 394.2H111.7M109.3 391.8V396.6M107.1 392.0L111.5 396.4M107.1 396.4L111.5 392.0M108.7 393.8H113.5M111.1 391.4V396.2M108.9 391.6L113.3 396.1M108.9 396.1L113.3 391.6M110.5 394.2H115.3M112.9 391.8V396.6M110.7 392.0L115.1 396.4M110.7 396.4L115.1 392.0M111.8 393.6H116.6M114.2 391.2V396.0M112.0 391.4L116.4 395.8M112.0 395.8L116.4 391.4M114.0 392.9H118.8M116.4 390.5V395.3M114.2 390.7L118.6 395.1M114.2 395.1L118.6 390.7M115.8 393.3H120.6M118.2 390.9V395.7M116.0 391.1L120.4 395.5M116.0 395.5L120.4 391.1M117.0 392.6H121.8M119.4 390.2V395.0M117.2 390.3L121.7 394.8M117.2 394.8L121.7 390.3M119.1 392.3H123.9M121.5 389.9V394.7M119.3 390.1L123.7 394.6M119.3 394.6L123.7 390.1M120.2 391.9H125.0M122.6 389.5V394.3M120.4 389.7L124.8 394.1M120.4 394.1L124.8 389.7M121.5 390.1H126.3M123.9 387.7V392.5M121.7 387.9L126.1 392.3M121.7 392.3L126.1 387.9M121.7 388.5H126.5M124.1 386.1V390.9M121.8 386.3L126.3 390.7M121.8 390.7L126.3 386.3M122.5 387.5H127.3M124.9 385.1V389.9M122.7 385.3L127.1 389.7M122.7 389.7L127.1 385.3M123.7 386.0H128.5M126.1 383.6V388.4M123.9 383.8L128.3 388.2M123.9 388.2L128.3 383.8M125.3 385.5H130.1M127.7 383.1V387.9M125.5 383.3L129.9 387.7M125.5 387.7L129.9 383.3M126.3 384.9H131.1M128.7 382.5V387.3M126.5 382.7L130.9 387.1M126.5 387.1L130.9 382.7M128.8 385.1H133.6M131.2 382.7V387.5M129.0 382.9L133.4 387.3M129.0 387.3L133.4 382.9M129.9 384.5H134.7M132.3 382.1V386.9M130.1 382.3L134.5 386.8M130.1 386.8L134.5 382.3M131.9 384.4H136.7M134.3 382.0V386.8M132.1 382.2L136.5 386.6M132.1 386.6L136.5 382.2M133.5 384.1H138.3M135.9 381.7V386.5M133.7 381.9L138.1 386.3M133.7 386.3L138.1 381.9M135.1 384.5H139.9M137.5 382.1V386.9M135.3 382.2L139.7 386.7M135.3 386.7L139.7 382.2M136.4 384.1H141.2M138.8 381.7V386.5M136.6 381.9L141.1 386.3M136.6 386.3L141.1 381.9M139.0 384.6H143.8M141.4 382.2V387.0M139.2 382.4L143.6 386.8M139.2 386.8L143.6 382.4M140.7 384.4H145.5M143.1 382.0V386.8M140.9 382.2L145.3 386.6M140.9 386.6L145.3 382.2M142.3 384.6H147.1M144.7 382.2V387.0M142.4 382.4L146.9 386.8M142.4 386.8L146.9 382.4M144.0 383.7H148.8M146.4 381.3V386.1M144.2 381.5L148.6 386.0M144.2 386.0L148.6 381.5M145.5 383.9H150.3M147.9 381.5V386.3M145.7 381.7L150.1 386.1M145.7 386.1L150.1 381.7M147.2 383.8H152.0M149.6 381.4V386.2M147.4 381.6L151.8 386.0M147.4 386.0L151.8 381.6M148.8 384.3H153.6M151.2 381.9V386.7M149.0 382.1L153.4 386.5M149.0 386.5L153.4 382.1M150.6 383.6H155.4M153.0 381.2V386.0M150.8 381.4L155.2 385.8M150.8 385.8L155.2 381.4M152.2 383.7H157.0M154.6 381.3V386.1M152.4 381.4L156.8 385.9M152.4 385.9L156.8 381.4M154.3 383.4H159.1M156.7 381.0V385.8M154.5 381.2L158.9 385.6M154.5 385.6L158.9 381.2M155.4 383.7H160.2M157.8 381.3V386.1M155.6 381.4L160.0 385.9M155.6 385.9L160.0 381.4M156.9 383.5H161.7M159.3 381.1V385.9M157.1 381.3L161.5 385.7M157.1 385.7L161.5 381.3M159.4 383.3H164.2M161.8 380.9V385.7M159.6 381.1L164.0 385.5M159.6 385.5L164.0 381.1M160.4 383.2H165.2M162.8 380.8V385.6M160.6 381.0L165.0 385.4M160.6 385.4L165.0 381.0M162.4 382.8H167.2M164.8 380.4V385.2M162.6 380.6L167.0 385.0M162.6 385.0L167.0 380.6M163.7 382.6H168.5M166.1 380.2V385.0M163.9 380.4L168.3 384.8M163.9 384.8L168.3 380.4M165.5 382.6H170.3M167.9 380.2V385.0M165.7 380.4L170.1 384.8M165.7 384.8L170.1 380.4M167.1 382.0H171.9M169.5 379.6V384.4M167.3 379.8L171.7 384.2M167.3 384.2L171.7 379.8M168.3 381.2H173.1M170.7 378.8V383.6M168.5 379.0L172.9 383.4M168.5 383.4L172.9 379.0M170.3 380.2H175.1M172.7 377.8V382.6M170.5 378.0L174.9 382.4M170.5 382.4L174.9 378.0M171.5 379.3H176.3M173.9 376.9V381.7M171.7 377.1L176.1 381.5M171.7 381.5L176.1 377.1M172.7 378.7H177.5M175.1 376.3V381.1M172.9 376.4L177.3 380.9M172.9 380.9L177.3 376.4M174.5 377.9H179.3M176.9 375.5V380.3M174.7 375.7L179.1 380.1M174.7 380.1L179.1 375.7M176.3 377.4H181.1M178.7 375.0V379.8M176.5 375.2L180.9 379.6M176.5 379.6L180.9 375.2M177.7 377.0H182.5M180.1 374.6V379.4M177.9 374.8L182.3 379.2M177.9 379.2L182.3 374.8M179.3 377.0H184.1M181.7 374.6V379.4M179.5 374.8L183.9 379.3M179.5 379.3L183.9 374.8M181.1 376.9H185.9M183.5 374.5V379.3M181.3 374.7L185.8 379.1M181.3 379.1L185.8 374.7M182.5 376.6H187.3M184.9 374.2V379.0M182.7 374.3L187.1 378.8M182.7 378.8L187.1 374.3M185.0 376.3H189.8M187.4 373.9V378.7M185.2 374.1L189.6 378.5M185.2 378.5L189.6 374.1M186.4 376.3H191.2M188.8 373.9V378.7M186.6 374.1L191.0 378.5M186.6 378.5L191.0 374.1M187.8 376.6H192.6M190.2 374.2V379.0M188.0 374.4L192.4 378.8M188.0 378.8L192.4 374.4M189.5 376.2H194.3M191.9 373.8V378.6M189.7 374.0L194.1 378.4M189.7 378.4L194.1 374.0M191.1 375.4H195.9M193.5 373.0V377.8M191.3 373.1L195.7 377.6M191.3 377.6L195.7 373.1M193.4 375.5H198.2M195.8 373.1V377.9M193.6 373.3L198.0 377.7M193.6 377.7L198.0 373.3M194.4 375.2H199.2M196.8 372.8V377.6M194.6 373.0L199.0 377.4M194.6 377.4L199.0 373.0M196.4 375.3H201.2M198.8 372.9V377.7M196.6 373.1L201.0 377.6M196.6 377.6L201.0 373.1M197.8 374.7H202.6M200.2 372.3V377.1M198.0 372.5L202.4 376.9M198.0 376.9L202.4 372.5M200.2 374.9H205.0M202.6 372.5V377.3M200.4 372.7L204.8 377.1M200.4 377.1L204.8 372.7M201.2 374.3H206.0M203.6 371.9V376.7M201.4 372.1L205.8 376.5M201.4 376.5L205.8 372.1M203.1 374.4H207.9M205.5 372.0V376.8M203.3 372.1L207.7 376.6M203.3 376.6L207.7 372.1M205.0 374.3H209.8M207.4 371.9V376.7M205.2 372.1L209.6 376.5M205.2 376.5L209.6 372.1M206.8 373.7H211.6M209.2 371.3V376.1M207.0 371.5L211.5 375.9M207.0 375.9L211.5 371.5M208.5 373.7H213.3M210.9 371.3V376.1M208.6 371.5L213.1 375.9M208.6 375.9L213.1 371.5M210.2 373.2H215.0M212.6 370.8V375.6M210.4 371.0L214.8 375.4M210.4 375.4L214.8 371.0M211.9 373.2H216.7M214.3 370.8V375.6M212.1 371.0L216.5 375.5M212.1 375.5L216.5 371.0M213.7 372.6H218.5M216.1 370.2V375.0M213.9 370.3L218.3 374.8M213.9 374.8L218.3 370.3M215.3 372.3H220.1M217.7 369.9V374.7M215.5 370.1L219.9 374.5M215.5 374.5L219.9 370.1M216.9 372.6H221.7M219.3 370.2V375.0M217.1 370.4L221.5 374.9M217.1 374.9L221.5 370.4M218.4 372.8H223.2M220.8 370.4V375.2M218.6 370.6L223.0 375.0M218.6 375.0L223.0 370.6M220.1 372.2H224.9M222.5 369.8V374.6M220.3 370.0L224.7 374.4M220.3 374.4L224.7 370.0M222.0 372.4H226.8M224.4 370.0V374.8M222.2 370.2L226.6 374.6M222.2 374.6L226.6 370.2M223.5 371.8H228.3M225.9 369.4V374.2M223.7 369.5L228.2 374.0M223.7 374.0L228.2 369.5M225.1 371.6H229.9M227.5 369.2V374.0M225.3 369.3L229.7 373.8M225.3 373.8L229.7 369.3M227.0 371.1H231.8M229.4 368.7V373.5M227.2 368.9L231.6 373.3M227.2 373.3L231.6 368.9M228.4 371.1H233.2M230.8 368.7V373.5M228.6 368.9L233.0 373.3M228.6 373.3L233.0 368.9M230.1 370.6H234.9M232.5 368.2V373.0M230.3 368.4L234.7 372.8M230.3 372.8L234.7 368.4M232.1 370.8H236.9M234.5 368.4V373.2M232.3 368.6L236.7 373.0M232.3 373.0L236.7 368.6M233.5 370.2H238.3M235.9 367.8V372.6M233.7 368.0L238.1 372.4M233.7 372.4L238.1 368.0M234.9 369.7H239.7M237.3 367.3V372.1M235.1 367.5L239.5 371.9M235.1 371.9L239.5 367.5M236.5 369.4H241.3M238.9 367.0V371.8M236.7 367.2L241.1 371.6M236.7 371.6L241.1 367.2M238.4 368.3H243.2M240.8 365.9V370.7M238.6 366.1L243.1 370.5M238.6 370.5L243.1 366.1M240.3 367.9H245.1M242.7 365.5V370.3M240.5 365.7L244.9 370.1M240.5 370.1L244.9 365.7M241.9 367.8H246.7M244.3 365.4V370.2M242.1 365.6L246.5 370.0M242.1 370.0L246.5 365.6M243.6 366.7H248.4M246.0 364.3V369.1M243.8 364.5L248.2 368.9M243.8 368.9L248.2 364.5M244.8 366.9H249.6M247.2 364.5V369.3M244.9 364.7L249.4 369.1M244.9 369.1L249.4 364.7M246.0 365.7H250.8M248.4 363.3V368.1M246.2 363.5L250.6 367.9M246.2 367.9L250.6 363.5M248.2 365.8H253.0M250.6 363.4V368.2M248.4 363.6L252.8 368.0M248.4 368.0L252.8 363.6M250.2 365.9H255.0M252.6 363.5V368.3M250.4 363.7L254.8 368.1M250.4 368.1L254.8 363.7M251.6 366.0H256.4M254.0 363.6V368.4M251.8 363.8L256.2 368.2M251.8 368.2L256.2 363.8M253.2 365.5H258.0M255.6 363.1V367.9M253.4 363.3L257.8 367.7M253.4 367.7L257.8 363.3M255.1 365.3H259.9M257.5 362.9V367.7M255.3 363.1L259.7 367.5M255.3 367.5L259.7 363.1M256.5 365.4H261.3M258.9 363.0V367.8M256.7 363.2L261.1 367.6M256.7 367.6L261.1 363.2M258.2 365.6H263.0M260.6 363.2V368.0M258.4 363.4L262.8 367.8M258.4 367.8L262.8 363.4M260.2 365.0H265.0M262.6 362.6V367.4M260.4 362.8L264.8 367.2M260.4 367.2L264.8 362.8M261.3 364.5H266.1M263.7 362.1V366.9M261.5 362.3L265.9 366.7M261.5 366.7L265.9 362.3M263.2 364.2H268.0M265.6 361.8V366.6M263.4 362.0L267.8 366.4M263.4 366.4L267.8 362.0M265.0 364.0H269.8M267.4 361.6V366.4M265.2 361.8L269.6 366.3M265.2 366.3L269.6 361.8M267.0 363.3H271.8M269.4 360.9V365.7M267.2 361.1L271.6 365.5M267.2 365.5L271.6 361.1M268.2 363.0H273.0M270.6 360.6V365.4M268.4 360.8L272.8 365.2M268.4 365.2L272.8 360.8M270.3 362.4H275.1M272.7 360.0V364.8M270.5 360.2L274.9 364.6M270.5 364.6L274.9 360.2M271.6 362.4H276.4M274.0 360.0V364.8M271.8 360.2L276.2 364.6M271.8 364.6L276.2 360.2M272.9 361.6H277.7M275.3 359.2V364.0M273.1 359.4L277.5 363.8M273.1 363.8L277.5 359.4M275.3 361.6H280.1M277.7 359.2V364.0M275.5 359.4L279.9 363.8M275.5 363.8L279.9 359.4M276.5 360.5H281.3M278.9 358.1V362.9M276.7 358.3L281.1 362.8M276.7 362.8L281.1 358.3M278.5 360.7H283.3M280.9 358.3V363.1M278.7 358.5L283.1 362.9M278.7 362.9L283.1 358.5M280.1 360.5H284.9M282.5 358.1V362.9M280.3 358.3L284.7 362.7M280.3 362.7L284.7 358.3M281.8 359.6H286.6M284.2 357.2V362.0M282.0 357.4L286.4 361.8M282.0 361.8L286.4 357.4M282.8 359.1H287.6M285.2 356.7V361.5M283.0 356.9L287.4 361.3M283.0 361.3L287.4 356.9M284.8 359.0H289.6M287.2 356.6V361.4M285.0 356.7L289.4 361.2M285.0 361.2L289.4 356.7M286.1 358.3H290.9M288.5 355.9V360.7M286.3 356.1L290.8 360.5M286.3 360.5L290.8 356.1M288.2 358.3H293.0M290.6 355.9V360.7M288.4 356.1L292.8 360.5M288.4 360.5L292.8 356.1M289.6 358.2H294.4M292.0 355.8V360.6M289.8 356.0L294.2 360.4M289.8 360.4L294.2 356.0M291.5 356.9H296.3M293.9 354.5V359.3M291.7 354.7L296.1 359.1M291.7 359.1L296.1 354.7M292.9 357.0H297.7M295.3 354.6V359.4M293.1 354.8L297.5 359.3M293.1 359.3L297.5 354.8M294.4 356.4H299.2M296.8 354.0V358.8M294.6 354.2L299.0 358.6M294.6 358.6L299.0 354.2M295.8 355.5H300.6M298.2 353.1V357.9M296.0 353.3L300.4 357.8M296.0 357.8L300.4 353.3M298.1 355.2H302.9M300.5 352.8V357.6M298.3 353.0L302.7 357.4M298.3 357.4L302.7 353.0M299.6 354.3H304.4M302.0 351.9V356.7M299.8 352.1L304.2 356.5M299.8 356.5L304.2 352.1M301.0 354.1H305.8M303.4 351.7V356.5M301.2 351.9L305.6 356.3M301.2 356.3L305.6 351.9M302.4 353.6H307.2M304.8 351.2V356.0M302.6 351.4L307.0 355.8M302.6 355.8L307.0 351.4M304.2 353.3H309.0M306.6 350.9V355.7M304.4 351.1L308.9 355.5M304.4 355.5L308.9 351.1M305.9 352.2H310.7M308.3 349.8V354.6M306.1 350.0L310.5 354.4M306.1 354.4L310.5 350.0M307.1 351.5H311.9M309.5 349.1V353.9M307.3 349.2L311.7 353.7M307.3 353.7L311.7 349.2M309.3 350.9H314.1M311.7 348.5V353.3M309.5 348.7L313.9 353.1M309.5 353.1L313.9 348.7M310.3 350.5H315.1M312.7 348.1V352.9M310.5 348.3L314.9 352.7M310.5 352.7L314.9 348.3M312.4 350.7H317.2M314.8 348.3V353.1M312.6 348.5L317.0 352.9M312.6 352.9L317.0 348.5M314.1 350.4H318.9M316.5 348.0V352.8M314.3 348.2L318.7 352.6M314.3 352.6L318.7 348.2M315.3 349.4H320.1M317.7 347.0V351.8M315.5 347.2L319.9 351.6M315.5 351.6L319.9 347.2M317.6 349.3H322.4M320.0 346.9V351.7M317.8 347.1L322.2 351.5M317.8 351.5L322.2 347.1M319.2 348.9H324.0M321.6 346.5V351.3M319.4 346.7L323.8 351.1M319.4 351.1L323.8 346.7M320.4 348.4H325.2M322.8 346.0V350.8M320.5 346.2L325.0 350.6M320.5 350.6L325.0 346.2M321.9 348.6H326.7M324.3 346.2V351.0M322.1 346.3L326.5 350.8M322.1 350.8L326.5 346.3M324.0 347.6H328.8M326.4 345.2V350.0M324.2 345.4L328.6 349.8M324.2 349.8L328.6 345.4M325.5 347.2H330.3M327.9 344.8V349.6M325.7 345.0L330.1 349.5M325.7 349.5L330.1 345.0M326.8 347.3H331.6M329.2 344.9V349.7M327.0 345.1L331.4 349.5M327.0 349.5L331.4 345.1M329.0 347.0H333.8M331.4 344.6V349.4M329.2 344.8L333.6 349.2M329.2 349.2L333.6 344.8M330.5 346.2H335.3M332.9 343.8V348.6M330.7 344.0L335.1 348.5M330.7 348.5L335.1 344.0M332.0 345.3H336.8M334.4 342.9V347.7M332.2 343.1L336.6 347.5M332.2 347.5L336.6 343.1M334.2 345.6H339.0M336.6 343.2V348.0M334.4 343.4L338.8 347.8M334.4 347.8L338.8 343.4M335.3 345.2H340.1M337.7 342.8V347.6M335.5 343.0L339.9 347.4M335.5 347.4L339.9 343.0M337.4 344.2H342.2M339.8 341.8V346.6M337.6 342.0L342.0 346.5M337.6 346.5L342.0 342.0M338.9 344.4H343.7M341.3 342.0V346.8M339.0 342.2L343.5 346.6M339.0 346.6L343.5 342.2M340.4 344.0H345.2M342.8 341.6V346.4M340.6 341.8L345.0 346.2M340.6 346.2L345.0 341.8M341.8 343.0H346.6M344.2 340.6V345.4M342.0 340.8L346.4 345.2M342.0 345.2L346.4 340.8M343.9 342.4H348.7M346.3 340.0V344.8M344.1 340.2L348.5 344.6M344.1 344.6L348.5 340.2M345.1 342.5H349.9M347.5 340.1V344.9M345.3 340.3L349.8 344.7M345.3 344.7L349.8 340.3M346.9 341.9H351.7M349.3 339.5V344.3M347.1 339.7L351.5 344.1M347.1 344.1L351.5 339.7M348.3 340.8H353.1M350.7 338.4V343.2M348.5 338.5L352.9 343.0M348.5 343.0L352.9 338.5M350.0 340.2H354.8M352.4 337.8V342.6M350.2 338.0L354.6 342.4M350.2 342.4L354.6 338.0M352.1 339.7H356.9M354.5 337.3V342.1M352.3 337.5L356.7 341.9M352.3 341.9L356.7 337.5M353.3 338.9H358.1M355.7 336.5V341.3M353.5 336.7L358.0 341.1M353.5 341.1L358.0 336.7M354.9 338.5H359.7M357.3 336.1V340.9M355.1 336.3L359.5 340.7M355.1 340.7L359.5 336.3M356.4 337.6H361.2M358.8 335.2V340.0M356.6 335.4L361.0 339.8M356.6 339.8L361.0 335.4M357.7 337.6H362.5M360.1 335.2V340.0M357.9 335.4L362.3 339.8M357.9 339.8L362.3 335.4M359.4 336.4H364.2M361.8 334.0V338.8M359.6 334.2L364.0 338.6M359.6 338.6L364.0 334.2M360.9 335.8H365.7M363.3 333.4V338.2M361.0 333.6L365.5 338.0M361.0 338.0L365.5 333.6M362.5 334.9H367.3M364.9 332.5V337.3M362.6 332.7L367.1 337.1M362.6 337.1L367.1 332.7M364.4 334.5H369.2M366.8 332.1V336.9M364.6 332.3L369.0 336.7M364.6 336.7L369.0 332.3M365.5 334.1H370.3M367.9 331.7V336.5M365.7 331.9L370.1 336.3M365.7 336.3L370.1 331.9M367.0 333.1H371.8M369.4 330.7V335.5M367.2 330.8L371.6 335.3M367.2 335.3L371.6 330.8M369.2 332.2H374.0M371.6 329.8V334.6M369.4 330.0L373.8 334.4M369.4 334.4L373.8 330.0M370.4 332.1H375.2M372.8 329.7V334.5M370.6 329.9L375.0 334.3M370.6 334.3L375.0 329.9M372.2 330.7H377.0M374.6 328.3V333.1M372.4 328.5L376.8 332.9M372.4 332.9L376.8 328.5M373.4 330.5H378.2M375.8 328.1V332.9M373.5 328.3L378.0 332.7M373.5 332.7L378.0 328.3M374.9 329.9H379.7M377.3 327.5V332.3M375.1 327.7L379.5 332.1M375.1 332.1L379.5 327.7M376.3 329.2H381.1M378.7 326.8V331.6M376.5 327.0L380.9 331.4M376.5 331.4L380.9 327.0M378.1 327.8H382.9M380.5 325.4V330.2M378.3 325.6L382.7 330.0M378.3 330.0L382.7 325.6M379.6 327.0H384.4M382.0 324.6V329.4M379.7 324.8L384.2 329.2M379.7 329.2L384.2 324.8M381.3 326.4H386.1M383.7 324.0V328.8M381.5 324.2L385.9 328.6M381.5 328.6L385.9 324.2M383.1 326.0H387.9M385.5 323.6V328.4M383.3 323.8L387.7 328.2M383.3 328.2L387.7 323.8M384.2 325.1H389.0M386.6 322.7V327.5M384.4 322.9L388.8 327.3M384.4 327.3L388.8 322.9M385.9 324.4H390.7M388.3 322.0V326.8M386.1 322.2L390.6 326.6M386.1 326.6L390.6 322.2M387.7 323.6H392.5M390.1 321.2V326.0M387.9 321.4L392.3 325.8M387.9 325.8L392.3 321.4M389.0 323.3H393.8M391.4 320.9V325.7M389.2 321.1L393.6 325.5M389.2 325.5L393.6 321.1M390.3 322.7H395.1M392.7 320.3V325.1M390.5 320.5L394.9 324.9M390.5 324.9L394.9 320.5M391.9 321.9H396.7M394.3 319.5V324.3M392.1 319.7L396.5 324.1M392.1 324.1L396.5 319.7M393.6 320.8H398.4M396.0 318.4V323.2M393.7 318.5L398.2 323.0M393.7 323.0L398.2 318.5M394.9 319.7H399.7M397.3 317.3V322.1M395.1 317.5L399.5 321.9M395.1 321.9L399.5 317.5M396.2 319.6H401.0M398.6 317.2V322.0M396.4 317.4L400.8 321.8M396.4 321.8L400.8 317.4M397.7 318.5H402.5M400.1 316.1V320.9M397.9 316.3L402.4 320.7M397.9 320.7L402.4 316.3M399.0 317.5H403.8M401.4 315.1V319.9M399.2 315.3L403.6 319.7M399.2 319.7L403.6 315.3M400.7 316.6H405.5M403.1 314.2V319.0M400.9 314.4L405.3 318.8M400.9 318.8L405.3 314.4M402.0 315.3H406.8M404.4 312.9V317.7M402.2 313.0L406.6 317.5M402.2 317.5L406.6 313.0M403.5 314.5H408.3M405.9 312.1V316.9M403.7 312.3L408.1 316.7M403.7 316.7L408.1 312.3M404.7 314.0H409.5M407.1 311.6V316.4M404.9 311.8L409.3 316.2M404.9 316.2L409.3 311.8M406.3 312.7H411.1M408.7 310.3V315.1M406.5 310.5L410.9 314.9M406.5 314.9L410.9 310.5M408.2 312.1H413.0M410.6 309.7V314.5M408.4 309.9L412.8 314.3M408.4 314.3L412.8 309.9M409.6 311.2H414.4M412.0 308.8V313.6M409.8 308.9L414.2 313.4M409.8 313.4L414.2 308.9M410.3 309.6H415.1M412.7 307.2V312.0M410.5 307.4L414.9 311.8M410.5 311.8L414.9 307.4M411.6 309.0H416.4M414.0 306.6V311.4M411.8 306.8L416.2 311.2M411.8 311.2L416.2 306.8M413.5 307.7H418.3M415.9 305.3V310.1M413.7 305.5L418.1 309.9M413.7 309.9L418.1 305.5M414.7 307.0H419.5M417.1 304.6V309.4M414.9 304.8L419.3 309.2M414.9 309.2L419.3 304.8M416.3 305.6H421.1M418.7 303.2V308.0M416.5 303.4L420.9 307.8M416.5 307.8L420.9 303.4M417.8 304.7H422.6M420.2 302.3V307.1M418.0 302.5L422.4 306.9M418.0 306.9L422.4 302.5M418.8 303.4H423.6M421.2 301.0V305.8M419.0 301.2L423.4 305.6M419.0 305.6L423.4 301.2M419.6 302.9H424.4M422.0 300.5V305.3M419.8 300.7L424.2 305.1M419.8 305.1L424.2 300.7M421.4 301.5H426.2M423.8 299.1V303.9M421.6 299.3L426.0 303.7M421.6 303.7L426.0 299.3M422.0 299.7H426.8M424.4 297.3V302.1M422.2 297.5L426.6 302.0M422.2 302.0L426.6 297.5M423.3 298.7H428.1M425.7 296.3V301.1M423.5 296.5L427.9 300.9M423.5 300.9L427.9 296.5M424.7 297.7H429.5M427.1 295.3V300.1M424.9 295.5L429.3 299.9M424.9 299.9L429.3 295.5M425.7 296.5H430.5M428.1 294.1V298.9M425.9 294.2L430.3 298.7M425.9 298.7L430.3 294.2M427.4 295.2H432.2M429.8 292.8V297.6M427.6 292.9L432.0 297.4M427.6 297.4L432.0 292.9M428.8 294.3H433.6M431.2 291.9V296.7M429.0 292.1L433.5 296.5M429.0 296.5L433.5 292.1M430.0 292.9H434.8M432.4 290.5V295.3M430.2 290.7L434.6 295.1M430.2 295.1L434.6 290.7M431.0 292.1H435.8M433.4 289.7V294.5M431.2 289.9L435.6 294.3M431.2 294.3L435.6 289.9M432.2 290.5H437.0M434.6 288.1V292.9M432.4 288.3L436.9 292.7M432.4 292.7L436.9 288.3M434.0 290.1H438.8M436.4 287.7V292.5M434.2 287.9L438.6 292.3M434.2 292.3L438.6 287.9M434.9 288.4H439.7M437.3 286.0V290.8M435.1 286.2L439.5 290.6M435.1 290.6L439.5 286.2M436.6 287.8H441.4M439.0 285.4V290.2M436.8 285.6L441.2 290.0M436.8 290.0L441.2 285.6M437.0 286.2H441.8M439.4 283.8V288.6M437.2 284.0L441.6 288.4M437.2 288.4L441.6 284.0M438.2 285.4H443.0M440.6 283.0V287.8M438.4 283.1L442.8 287.6M438.4 287.6L442.8 283.1M439.3 284.1H444.1M441.7 281.7V286.5M439.5 281.9L443.9 286.4M439.5 286.4L443.9 281.9M441.0 282.2H445.8M443.4 279.8V284.6M441.2 279.9L445.6 284.4M441.2 284.4L445.6 279.9M442.1 281.2H446.9M444.5 278.8V283.6M442.3 279.0L446.7 283.4M442.3 283.4L446.7 279.0M443.3 280.4H448.1M445.7 278.0V282.8M443.5 278.1L447.9 282.6M443.5 282.6L447.9 278.1M444.1 278.5H448.9M446.5 276.1V280.9M444.3 276.3L448.7 280.7M444.3 280.7L448.7 276.3M445.8 277.5H450.6M448.2 275.1V279.9M446.0 275.3L450.4 279.7M446.0 279.7L450.4 275.3M447.0 276.5H451.8M449.4 274.1V278.9M447.2 274.3L451.6 278.7M447.2 278.7L451.6 274.3M448.0 275.4H452.8M450.4 273.0V277.8M448.2 273.2L452.6 277.6M448.2 277.6L452.6 273.2M449.0 273.8H453.8M451.4 271.4V276.2M449.2 271.6L453.7 276.1M449.2 276.1L453.7 271.6M449.7 272.8H454.5M452.1 270.4V275.2M449.8 270.6L454.3 275.0M449.8 275.0L454.3 270.6M451.1 271.3H455.9M453.5 268.9V273.7M451.3 269.1L455.7 273.5M451.3 273.5L455.7 269.1M452.6 269.7H457.4M455.0 267.3V272.1M452.8 267.5L457.2 271.9M452.8 271.9L457.2 267.5M453.5 268.3H458.3M455.9 265.9V270.7M453.7 266.1L458.1 270.5M453.7 270.5L458.1 266.1M454.5 267.6H459.3M456.9 265.2V270.0M454.7 265.4L459.1 269.8M454.7 269.8L459.1 265.4M455.2 266.1H460.0M457.6 263.7V268.5M455.4 263.8L459.8 268.3M455.4 268.3L459.8 263.8M456.9 264.8H461.7M459.3 262.4V267.2M457.1 262.6L461.5 267.0M457.1 267.0L461.5 262.6M457.6 263.1H462.4M460.0 260.7V265.5M457.8 260.9L462.2 265.3M457.8 265.3L462.2 260.9M458.2 261.9H463.0M460.6 259.5V264.3M458.4 259.7L462.8 264.1M458.4 264.1L462.8 259.7M459.6 260.4H464.4M462.0 258.0V262.8M459.7 258.2L464.2 262.6M459.7 262.6L464.2 258.2M460.5 259.0H465.3M462.9 256.6V261.4M460.7 256.8L465.1 261.2M460.7 261.2L465.1 256.8M461.9 258.1H466.7M464.3 255.7V260.5M462.1 255.9L466.5 260.3M462.1 260.3L466.5 255.9M462.4 256.3H467.2M464.8 253.9V258.7M462.6 254.1L467.0 258.6M462.6 258.6L467.0 254.1M463.6 255.1H468.4M466.0 252.7V257.5M463.8 252.9L468.2 257.3M463.8 257.3L468.2 252.9M464.9 253.6H469.7M467.3 251.2V256.0M465.1 251.4L469.5 255.8M465.1 255.8L469.5 251.4M465.3 252.7H470.1M467.7 250.3V255.1M465.5 250.5L469.9 254.9M465.5 254.9L469.9 250.5M466.1 251.0H470.9M468.5 248.6V253.4M466.3 248.8L470.7 253.2M466.3 253.2L470.7 248.8M467.2 249.8H472.0M469.6 247.4V252.2M467.4 247.6L471.8 252.0M467.4 252.0L471.8 247.6M468.3 248.3H473.1M470.7 245.9V250.7M468.5 246.1L472.9 250.5M468.5 250.5L472.9 246.1M468.9 246.8H473.7M471.3 244.4V249.2M469.1 244.6L473.5 249.0M469.1 249.0L473.5 244.6M470.3 245.1H475.1M472.7 242.7V247.5M470.5 242.9L474.9 247.3M470.5 247.3L474.9 242.9M471.4 243.9H476.2M473.8 241.5V246.3M471.6 241.7L476.0 246.1M471.6 246.1L476.0 241.7M471.7 241.8H476.5M474.1 239.4V244.2M471.9 239.6L476.3 244.0M471.9 244.0L476.3 239.6M472.9 240.1H477.7M475.3 237.7V242.5M473.1 237.9L477.5 242.3M473.1 242.3L477.5 237.9M473.6 238.4H478.4M476.0 236.0V240.8M473.8 236.2L478.2 240.7M473.8 240.7L478.2 236.2M474.7 237.1H479.5M477.1 234.7V239.5M474.9 234.9L479.3 239.3M474.9 239.3L479.3 234.9M476.0 234.8H480.8M478.4 232.4V237.2M476.1 232.6L480.6 237.0M476.1 237.0L480.6 232.6M476.9 233.3H481.7M479.3 230.9V235.7M477.1 231.1L481.5 235.5M477.1 235.5L481.5 231.1M478.0 231.2H482.8M480.4 228.8V233.6M478.2 229.0L482.6 233.4M478.2 233.4L482.6 229.0M478.8 229.1H483.6M481.2 226.7V231.5M479.0 226.9L483.4 231.4M479.0 231.4L483.4 226.9M480.7 227.9H485.5M483.1 225.5V230.3M480.9 225.7L485.3 230.1M480.9 230.1L485.3 225.7M481.0 225.9H485.8M483.4 223.5V228.3M481.2 223.7L485.6 228.1M481.2 228.1L485.6 223.7M482.9 223.6H487.7M485.3 221.2V226.0M483.1 221.4L487.5 225.8M483.1 225.8L487.5 221.4M483.0 221.4H487.8M485.4 219.0V223.8M483.2 219.2L487.6 223.6M483.2 223.6L487.6 219.2M484.2 218.9H489.0M486.6 216.5V221.3M484.4 216.7L488.8 221.1M484.4 221.1L488.8 216.7M485.3 216.4H490.1M487.7 214.0V218.8M485.4 214.2L489.9 218.6M485.4 218.6L489.9 214.2M486.5 214.7H491.3M488.9 212.3V217.1M486.7 212.5L491.2 216.9M486.7 216.9L491.2 212.5M487.3 212.6H492.1M489.7 210.2V215.0M487.4 210.4L491.9 214.8M487.4 214.8L491.9 210.4M488.2 209.6H493.0M490.6 207.2V212.0M488.4 207.4L492.9 211.8M488.4 211.8L492.9 207.4M488.8 207.0H493.6M491.2 204.6V209.4M489.0 204.8L493.4 209.2M489.0 209.2L493.4 204.8M489.6 205.1H494.4M492.0 202.7V207.5M489.7 202.9L494.2 207.3M489.7 207.3L494.2 202.9M491.2 202.1H496.0M493.6 199.7V204.5M491.4 199.9L495.8 204.3M491.4 204.3L495.8 199.9M491.6 199.8H496.4M494.0 197.4V202.2M491.8 197.6L496.2 202.0M491.8 202.0L496.2 197.6M493.1 197.4H497.9M495.5 195.0V199.8M493.3 195.2L497.7 199.6M493.3 199.6L497.7 195.2M493.5 194.6H498.3M495.9 192.2V197.0M493.7 192.4L498.1 196.8M493.7 196.8L498.1 192.4M495.1 191.8H499.9M497.5 189.4V194.2M495.3 189.6L499.7 194.0M495.3 194.0L499.7 189.6M495.6 188.5H500.4M498.0 186.1V190.9M495.8 186.3L500.2 190.8M495.8 190.8L500.2 186.3M497.1 185.9H501.9M499.5 183.5V188.3M497.2 183.7L501.7 188.1M497.2 188.1L501.7 183.7M497.7 183.2H502.5M500.1 180.8V185.6M497.9 181.0L502.3 185.4M497.9 185.4L502.3 181.0M498.7 180.6H503.5M501.1 178.2V183.0M498.9 178.4L503.3 182.8M498.9 182.8L503.3 178.4M499.6 176.9H504.4M502.0 174.5V179.3M499.8 174.7L504.3 179.1M499.8 179.1L504.3 174.7M501.0 174.4H505.8M503.4 172.0V176.8M501.2 172.2L505.6 176.7M501.2 176.7L505.6 172.2M502.3 171.5H507.1M504.7 169.1V173.9M502.5 169.3L506.9 173.7M502.5 173.7L506.9 169.3M503.4 168.6H508.2M505.8 166.2V171.0M503.6 166.4L508.0 170.8M503.6 170.8L508.0 166.4M504.1 165.1H508.9M506.5 162.7V167.5M504.3 162.8L508.7 167.3M504.3 167.3L508.7 162.8M504.8 161.7H509.6M507.2 159.3V164.1M505.0 159.5L509.4 163.9M505.0 163.9L509.4 159.5M506.2 158.4H511.0M508.6 156.0V160.8M506.4 156.2L510.8 160.6M506.4 160.6L510.8 156.2M507.4 155.4H512.2M509.8 153.0V157.8M507.6 153.1L512.0 157.6M507.6 157.6L512.0 153.1M508.2 152.9H513.0M510.6 150.5V155.3M508.4 150.7L512.8 155.2M508.4 155.2L512.8 150.7M508.8 149.0H513.6M511.2 146.6V151.4M509.0 146.7L513.5 151.2M509.0 151.2L513.5 146.7M510.0 145.9H514.8M512.4 143.5V148.3M510.1 143.7L514.6 148.1M510.1 148.1L514.6 143.7M511.0 142.5H515.8M513.4 140.1V144.9M511.2 140.3L515.6 144.7M511.2 144.7L515.6 140.3M511.9 140.1H516.7M514.3 137.7V142.5M512.1 137.9L516.5 142.3M512.1 142.3L516.5 137.9M512.6 136.5H517.4M515.0 134.1V138.9M512.8 134.3L517.2 138.7M512.8 138.7L517.2 134.3M512.8 133.5H517.6M515.2 131.1V135.9M513.0 131.3L517.5 135.7M513.0 135.7L517.5 131.3M513.7 130.0H518.5M516.1 127.6V132.4M513.9 127.8L518.3 132.2M513.9 132.2L518.3 127.8M514.3 126.8H519.1M516.7 124.4V129.2M514.5 124.6L518.9 129.0M514.5 129.0L518.9 124.6M515.2 123.9H520.0M517.6 121.5V126.3M515.4 121.7L519.8 126.1M515.4 126.1L519.8 121.7M516.1 120.1H520.9M518.5 117.7V122.5M516.3 117.9L520.7 122.3M516.3 122.3L520.7 117.9M516.3 117.1H521.1M518.7 114.7V119.5M516.4 114.9L520.9 119.3M516.4 119.3L520.9 114.9M517.2 113.8H522.0M519.6 111.4V116.2M517.4 111.6L521.8 116.0M517.4 116.0L521.8 111.6M517.4 110.3H522.2M519.8 107.9V112.7M517.6 108.1L522.0 112.5M517.6 112.5L522.0 108.1M518.1 107.4H522.9M520.5 105.0V109.8M518.3 105.2L522.7 109.6M518.3 109.6L522.7 105.2M519.3 104.6H524.1M521.7 102.2V107.0M519.5 102.4L523.9 106.8M519.5 106.8L523.9 102.4M519.8 101.4H524.6M522.2 99.0V103.8M520.0 99.2L524.4 103.6M520.0 103.6L524.4 99.2M520.5 97.8H525.3M522.9 95.4V100.2M520.7 95.6L525.1 100.0M520.7 100.0L525.1 95.6M520.9 94.1H525.7M523.3 91.7V96.5M521.1 91.9L525.5 96.3M521.1 96.3L525.5 91.9M521.4 91.3H526.2M523.8 88.9V93.7M521.6 89.1L526.0 93.5M521.6 93.5L526.0 89.1M521.7 88.0H526.5M524.1 85.6V90.4M521.9 85.8L526.3 90.2M521.9 90.2L526.3 85.8M522.9 84.7H527.7M525.3 82.3V87.1M523.1 82.5L527.5 86.9M523.1 86.9L527.5 82.5M523.1 81.3H527.9M525.5 78.9V83.7M523.3 79.1L527.7 83.5M523.3 83.5L527.7 79.1M523.3 78.6H528.1M525.7 76.2V81.0M523.5 76.3L527.9 80.8M523.5 80.8L527.9 76.3M523.5 74.7H528.3M525.9 72.3V77.1M523.7 72.5L528.1 76.9M523.7 76.9L528.1 72.5M524.6 71.6H529.4M527.0 69.2V74.0M524.8 69.4L529.2 73.8M524.8 73.8L529.2 69.4M524.5 68.6H529.3M526.9 66.2V71.0M524.7 66.3L529.1 70.8M524.7 70.8L529.1 66.3M525.3 65.2H530.1M527.7 62.8V67.6M525.5 63.0L529.9 67.4M525.5 67.4L529.9 63.0M525.8 61.9H530.6M528.2 59.5V64.3M526.0 59.7L530.4 64.1M526.0 64.1L530.4 59.7"/></g>
<g fill="#ff0000"><path d="M84.2 394.2L88.5 394.2L86.4 398.9ZM88.0 393.7L92.3 393.7L90.2 398.4ZM91.6 393.3L95.9 393.3L93.8 398.0ZM95.1 392.7L99.4 392.7L97.3 397.4ZM98.7 392.1L103.0 392.1L100.9 396.8ZM102.7 391.2L107.0 391.2L104.8 396.0ZM106.2 390.7L110.5 390.7L108.4 395.4ZM109.9 390.6L114.2 390.6L112.0 395.3ZM113.6 390.1L117.9 390.1L115.8 394.8ZM117.4 389.3L121.7 389.3L119.6 394.0ZM121.3 389.3L125.6 389.3L123.4 394.0ZM124.3 388.5L128.6 388.5L126.4 393.2ZM128.1 387.7L132.4 387.7L130.3 392.5ZM132.2 387.9L136.5 387.9L134.3 392.6ZM135.8 387.5L140.1 387.5L137.9 392.2ZM139.5 387.2L143.8 387.2L141.6 392.0ZM142.8 387.0L147.1 387.0L145.0 391.8ZM146.4 386.8L150.7 386.8L148.5 391.5ZM150.2 386.2L154.5 386.2L152.3 390.9ZM154.1 385.9L158.4 385.9L156.3 390.6ZM157.9 385.5L162.2 385.5L160.1 390.3ZM161.6 385.1L165.9 385.1L163.7 389.8ZM165.3 384.8L169.6 384.8L167.4 389.6ZM168.5 384.3L172.8 384.3L170.7 389.0ZM171.9 383.1L176.2 383.1L174.1 387.8ZM174.5 380.3L178.8 380.3L176.7 385.1ZM177.5 378.5L181.8 378.5L179.7 383.3ZM181.6 378.6L185.9 378.6L183.7 383.3ZM185.2 377.9L189.5 377.9L187.4 382.6ZM188.9 377.8L193.2 377.8L191.0 382.5ZM192.5 378.0L196.8 378.0L194.7 382.8ZM196.0 377.9L200.3 377.9L198.1 382.6ZM200.0 377.3L204.3 377.3L202.2 382.0ZM203.4 377.2L207.7 377.2L205.6 381.9ZM207.5 376.8L211.8 376.8L209.6 381.5ZM210.7 375.7L215.0 375.7L212.8 380.5ZM214.3 375.8L218.6 375.8L216.5 380.6ZM218.1 375.3L222.4 375.3L220.2 380.1ZM221.8 375.0L226.1 375.0L224.0 379.8ZM225.5 374.3L229.8 374.3L227.7 379.1ZM229.5 374.2L233.8 374.2L231.7 378.9ZM233.1 373.9L237.4 373.9L235.2 378.6ZM236.9 372.9L241.2 372.9L239.0 377.6ZM240.2 372.2L244.5 372.2L242.3 377.0ZM243.9 371.9L248.2 371.9L246.0 376.6ZM247.7 370.7L252.0 370.7L249.8 375.4ZM251.0 370.5L255.3 370.5L253.1 375.2ZM254.9 369.6L259.2 369.6L257.0 374.4ZM258.4 368.9L262.7 368.9L260.5 373.6ZM262.1 368.2L266.4 368.2L264.2 372.9ZM265.5 367.4L269.8 367.4L267.6 372.1ZM268.4 366.7L272.7 366.7L270.6 371.4ZM271.9 366.7L276.2 366.7L274.0 371.4ZM275.3 365.4L279.6 365.4L277.5 370.2ZM278.2 364.8L282.5 364.8L280.4 369.5ZM281.5 364.1L285.8 364.1L283.6 368.9ZM284.5 363.2L288.8 363.2L286.6 368.0ZM287.2 362.8L291.5 362.8L289.4 367.5ZM290.3 361.7L294.6 361.7L292.5 366.4ZM293.2 361.5L297.5 361.5L295.3 366.2ZM295.7 360.2L300.0 360.2L297.8 364.9ZM298.8 359.6L303.1 359.6L300.9 364.3ZM301.2 359.0L305.5 359.0L303.3 363.7ZM303.9 358.4L308.2 358.4L306.0 363.2ZM306.7 358.0L311.0 358.0L308.8 362.7ZM309.6 356.5L313.9 356.5L311.7 361.3ZM311.9 356.1L316.2 356.1L314.1 360.8ZM314.7 355.2L319.0 355.2L316.9 360.0ZM317.2 354.3L321.5 354.3L319.3 359.0ZM319.6 353.3L323.9 353.3L321.8 358.0ZM322.5 352.8L326.8 352.8L324.7 357.5ZM325.2 351.9L329.5 351.9L327.4 356.6ZM327.5 351.2L331.8 351.2L329.7 356.0ZM330.4 350.3L334.7 350.3L332.6 355.1ZM333.0 349.5L337.3 349.5L335.2 354.2ZM335.6 348.9L339.9 348.9L337.8 353.6ZM338.0 348.1L342.3 348.1L340.1 352.9ZM340.8 347.7L345.1 347.7L342.9 352.5ZM343.5 346.6L347.8 346.6L345.7 351.3ZM346.0 345.6L350.3 345.6L348.1 350.3ZM348.6 344.5L352.9 344.5L350.7 349.3ZM350.9 344.0L355.2 344.0L353.1 348.7ZM353.8 342.7L358.1 342.7L355.9 347.4ZM356.4 341.5L360.7 341.5L358.5 346.2ZM358.6 340.2L362.9 340.2L360.8 344.9ZM361.2 339.2L365.5 339.2L363.3 343.9ZM364.0 338.3L368.3 338.3L366.2 343.1ZM366.7 337.2L371.0 337.2L368.8 341.9ZM369.2 336.3L373.5 336.3L371.4 341.0ZM371.2 335.0L375.5 335.0L373.4 339.7ZM374.1 334.3L378.4 334.3L376.2 339.1ZM376.4 333.1L380.7 333.1L378.6 337.8ZM379.0 332.1L383.3 332.1L381.1 336.8ZM381.3 330.6L385.6 330.6L383.4 335.4ZM384.2 329.2L388.5 329.2L386.3 333.9ZM386.2 327.8L390.5 327.8L388.3 332.5ZM388.4 326.8L392.7 326.8L390.5 331.5ZM390.8 325.6L395.1 325.6L392.9 330.4ZM392.6 324.5L396.9 324.5L394.7 329.3ZM394.5 323.8L398.8 323.8L396.7 328.6ZM396.3 322.3L400.6 322.3L398.4 327.1ZM397.9 321.8L402.2 321.8L400.1 326.5ZM399.4 320.3L403.7 320.3L401.5 325.0ZM401.0 319.8L405.3 319.8L403.1 324.5ZM402.2 318.4L406.5 318.4L404.4 323.1ZM403.7 317.6L408.0 317.6L405.8 322.4ZM405.6 316.7L409.9 316.7L407.7 321.5ZM407.1 315.5L411.4 315.5L409.3 320.2ZM408.3 314.9L412.6 314.9L410.4 319.6ZM410.0 313.7L414.3 313.7L412.1 318.4ZM411.5 312.7L415.8 312.7L413.7 317.4ZM412.7 311.7L417.0 311.7L414.8 316.5ZM414.2 310.9L418.5 310.9L416.3 315.6ZM415.8 309.8L420.1 309.8L418.0 314.5ZM417.5 308.7L421.8 308.7L419.7 313.4ZM419.0 307.6L423.3 307.6L421.1 312.3ZM420.8 307.0L425.1 307.0L422.9 311.8ZM422.4 305.8L426.7 305.8L424.6 310.6ZM423.7 305.4L428.0 305.4L425.9 310.1ZM425.1 304.1L429.4 304.1L427.3 308.8ZM426.6 303.2L430.9 303.2L428.8 308.0ZM428.5 302.3L432.8 302.3L430.7 307.1ZM430.1 301.7L434.4 301.7L432.3 306.4ZM431.6 300.9L435.9 300.9L433.7 305.7ZM433.2 300.2L437.5 300.2L435.4 304.9ZM434.9 299.2L439.2 299.2L437.0 304.0ZM436.6 298.4L440.9 298.4L438.7 303.2ZM438.1 297.8L442.4 297.8L440.2 302.5ZM439.2 296.1L443.5 296.1L441.4 300.8ZM440.0 294.9L444.3 294.9L442.2 299.6ZM440.6 292.8L444.9 292.8L442.7 297.6ZM441.5 291.6L445.8 291.6L443.6 296.4ZM442.3 289.6L446.6 289.6L444.4 294.3ZM443.7 288.7L448.0 288.7L445.9 293.4ZM445.2 287.3L449.5 287.3L447.4 292.0ZM446.7 286.0L451.0 286.0L448.8 290.7ZM447.9 284.7L452.2 284.7L450.0 289.4ZM448.8 283.6L453.1 283.6L450.9 288.3ZM450.1 282.6L454.4 282.6L452.3 287.3ZM451.7 281.1L456.0 281.1L453.8 285.8ZM453.1 279.9L457.4 279.9L455.3 284.6ZM453.8 278.4L458.1 278.4L456.0 283.1ZM455.4 277.5L459.7 277.5L457.5 282.2ZM456.2 275.6L460.5 275.6L458.4 280.4ZM457.8 274.4L462.1 274.4L459.9 279.1ZM459.1 273.2L463.4 273.2L461.2 277.9ZM460.0 271.7L464.3 271.7L462.2 276.4ZM461.2 270.4L465.5 270.4L463.4 275.1ZM462.1 269.2L466.4 269.2L464.3 274.0ZM463.2 267.8L467.5 267.8L465.3 272.5ZM464.3 266.3L468.6 266.3L466.5 271.1ZM465.6 265.0L469.9 265.0L467.8 269.7ZM466.5 263.2L470.8 263.2L468.6 267.9ZM467.8 261.8L472.1 261.8L469.9 266.5ZM469.2 260.0L473.5 260.0L471.4 264.7ZM469.9 258.0L474.2 258.0L472.1 262.8ZM471.1 256.4L475.4 256.4L473.3 261.1ZM472.3 254.5L476.6 254.5L474.5 259.2ZM473.9 253.0L478.2 253.0L476.0 257.7ZM474.9 251.4L479.2 251.4L477.0 256.1ZM476.0 249.2L480.3 249.2L478.2 253.9ZM477.2 247.3L481.5 247.3L479.3 252.1ZM478.8 244.9L483.1 244.9L480.9 249.6ZM479.9 243.1L484.2 243.1L482.1 247.9ZM480.8 240.7L485.1 240.7L483.0 245.4ZM482.1 238.8L486.4 238.8L484.3 243.5ZM483.0 236.3L487.3 236.3L485.2 241.1ZM484.4 233.8L488.7 233.8L486.5 238.5ZM485.5 231.6L489.8 231.6L487.7 236.4ZM486.4 229.2L490.7 229.2L488.6 233.9ZM487.7 226.6L492.0 226.6L489.9 231.3ZM489.2 223.6L493.5 223.6L491.4 228.4ZM490.4 221.5L494.7 221.5L492.5 226.2ZM491.1 218.1L495.4 218.1L493.3 222.8ZM492.1 215.9L496.4 215.9L494.3 220.6ZM493.1 212.9L497.4 212.9L495.3 217.7ZM494.3 209.9L498.6 209.9L496.4 214.6ZM495.4 206.6L499.7 206.6L497.5 211.3ZM496.8 203.5L501.1 203.5L499.0 208.2ZM497.7 200.9L502.0 200.9L499.9 205.6ZM499.1 197.7L503.4 197.7L501.3 202.5ZM500.5 194.0L504.8 194.0L502.6 198.8ZM501.2 191.2L505.5 191.2L503.3 196.0ZM502.6 187.4L506.9 187.4L504.8 192.2ZM503.7 184.2L508.0 184.2L505.8 188.9ZM504.8 180.7L509.1 180.7L506.9 185.4ZM505.7 177.8L510.0 177.8L507.8 182.5ZM507.0 174.3L511.3 174.3L509.2 179.0ZM508.1 170.6L512.4 170.6L510.2 175.4ZM509.2 167.2L513.5 167.2L511.4 171.9ZM510.4 163.9L514.7 163.9L512.6 168.6ZM511.6 160.5L515.9 160.5L513.7 165.2ZM512.9 156.7L517.2 156.7L515.1 161.4ZM513.9 153.4L518.2 153.4L516.1 158.2ZM515.4 149.9L519.7 149.9L517.5 154.6ZM516.0 146.7L520.3 146.7L518.2 151.5ZM517.4 143.1L521.7 143.1L519.6 147.8ZM518.0 139.2L522.3 139.2L520.1 143.9ZM518.9 135.6L523.2 135.6L521.0 140.3ZM519.6 132.3L523.9 132.3L521.8 137.0ZM520.7 128.8L525.0 128.8L522.9 133.5ZM521.5 124.9L525.8 124.9L523.7 129.6ZM522.5 121.7L526.8 121.7L524.6 126.4ZM523.2 118.0L527.5 118.0L525.4 122.7ZM524.2 114.7L528.5 114.7L526.4 119.4ZM525.2 111.0L529.5 111.0L527.4 115.7ZM525.4 107.1L529.7 107.1L527.6 111.8ZM525.8 103.8L530.1 103.8L527.9 108.5ZM525.9 99.8L530.2 99.8L528.1 104.5ZM526.0 95.9L530.3 95.9L528.1 100.6ZM526.3 89.0L530.6 89.0L528.5 93.7Z"/></g>
</g>
<path d="M75.7 440.5H84.5M79.8 428.5H84.5M79.8 416.5H84.5M79.8 405.5H84.5M79.8 393.5H84.5M75.7 381.5H84.5M79.8 369.5H84.5M79.8 357.5H84.5M79.8 345.5H84.5M79.8 333.5H84.5M75.7 321.5H84.5M79.8 310.5H84.5M79.8 298.5H84.5M79.8 286.5H84.5M79.8 274.5H84.5M75.7 262.5H84.5M79.8 250.5H84.5M79.8 238.5H84.5M79.8 226.5H84.5M79.8 214.5H84.5M75.7 203.5H84.5M79.8 191.5H84.5M79.8 179.5H84.5M79.8 167.5H84.5M79.8 155.5H84.5M75.7 143.5H84.5M79.8 131.5H84.5M79.8 119.5H84.5M79.8 108.5H84.5M79.8 96.5H84.5M75.7 84.5H84.5M79.8 72.5H84.5M79.8 60.5H84.5M79.8 48.5H84.5M79.8 36.5H84.5M75.7 24.5H84.5M84.5 440.5V449.3M97.5 440.5V445.2M109.5 440.5V445.2M122.5 440.5V445.2M135.5 440.5V445.2M147.5 440.5V449.3M160.5 440.5V445.2M173.5 440.5V445.2M185.5 440.5V445.2M198.5 440.5V445.2M211.5 440.5V449.3M223.5 440.5V445.2M236.5 440.5V445.2M249.5 440.5V445.2M261.5 440.5V445.2M274.5 440.5V449.3M287.5 440.5V445.2M299.5 440.5V445.2M312.5 440.5V445.2M325.5 440.5V445.2M337.5 440.5V449.3M350.5 440.5V445.2M363.5 440.5V445.2M375.5 440.5V445.2M388.5 440.5V445.2M401.5 440.5V449.3M413.5 440.5V445.2M426.5 440.5V445.2M439.5 440.5V445.2M452.5 440.5V445.2M464.5 440.5V449.3M477.5 440.5V445.2M490.5 440.5V445.2M502.5 440.5V445.2M515.5 440.5V445.2M528.5 440.5V449.3" stroke="#000" stroke-opacity="0.6" stroke-width="1" fill="none"/>
<path d="M84.8 24.9H528V440.3H84.8Z" fill="none" stroke="#000" stroke-width="1.9"/>
</svg>
</body></html>
